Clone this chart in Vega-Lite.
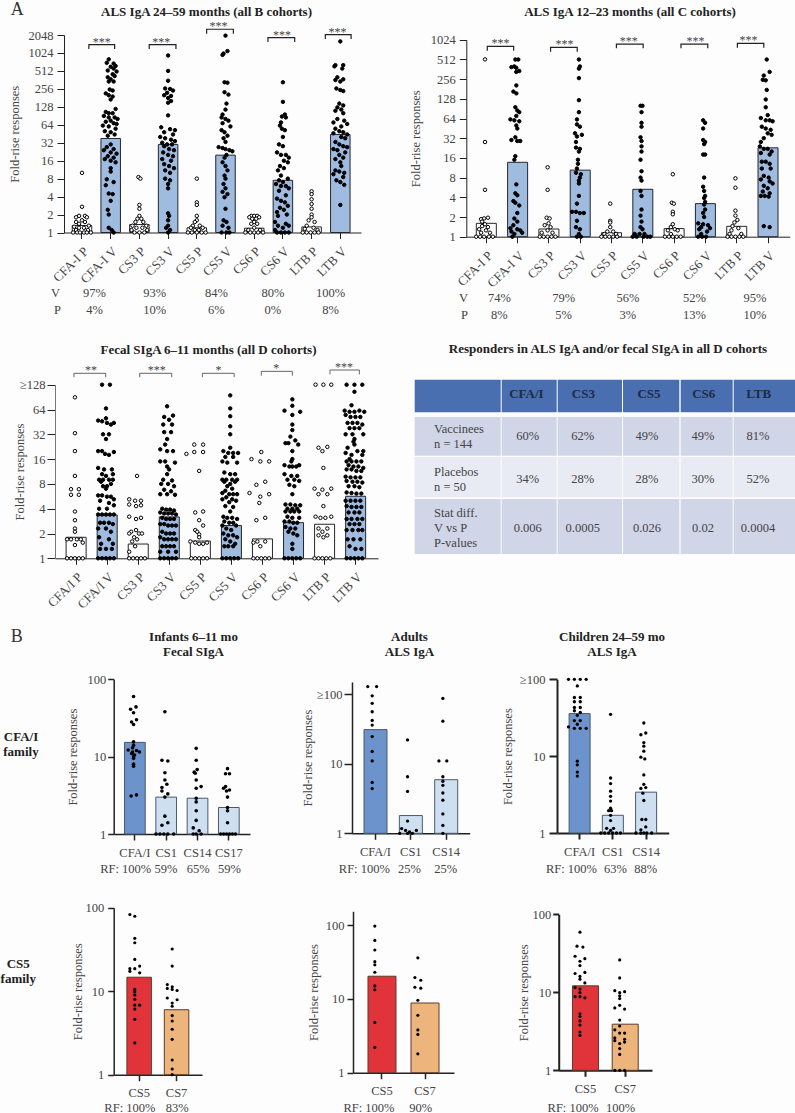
{"$schema":"https://vega.github.io/schema/vega-lite/v6.json","background":"#fdfdfd","padding":0,"spacing":0,"config":{"font":"Liberation Serif","view":{"stroke":null},"axis":{"labelColor":"#444","titleColor":"#444","labelFontSize":12.5,"titleFontSize":12.5,"titleFontWeight":"normal","domainColor":"#222","tickColor":"#222","grid":false},"title":{"fontSize":13,"fontWeight":"bold","color":"#222","anchor":"middle"},"text":{"fontSize":12.5,"baseline":"middle","fill":"#444"}},
"vconcat":[
{"hconcat":[
{"width":397,"height":325,"title":{"text":"ALS IgA 24–59 months (all B cohorts)","dx":6,"offset":-19},
"encoding":{"x":{"field":"x","type":"nominal","scale":{"domain":["CFA-I P","CFA-I V","CS3 P","CS3 V","CS5 P","CS5 V","CS6 P","CS6 V","LTB P","LTB V"],"range":[62,359],"paddingInner":0,"paddingOuter":0.174,"align":0.365},"axis":{"title":null,"labelAngle":-45,"labelAlign":"right","labelBaseline":"top","labelFontSize":13,"tickSize":6,"offset":-92.5,"labelPadding":6}},"y":{"field":"y","type":"quantitative","scale":{"type":"log","base":2,"domain":[1,2048],"range":[232.5,35]},"axis":{"values":[1,2,4,8,16,32,64,128,256,512,1024,2048],"format":"d","title":"Fold-rise responses","offset":-62,"tickSize":7,"labelPadding":4,"titlePadding":7}}},
"layer":[
{"data":{"values":[{"x":"CFA-I P","y":1.31},{"x":"CFA-I V","y":37.7},{"x":"CS3 P","y":1.36},{"x":"CS3 V","y":30},{"x":"CS5 P","y":1.2},{"x":"CS5 V","y":19.8},{"x":"CS6 P","y":1.18},{"x":"CS6 V","y":7.5},{"x":"LTB P","y":1.24},{"x":"LTB V","y":44}]},"mark":{"type":"bar","width":19.5,"stroke":"#23262e","strokeWidth":1},"encoding":{"y2":{"datum":1},"fill":{"condition":{"test":"test(/ P$/,datum.x)","value":"#ffffff"},"value":"#9fbbe0"}}},
{"data":{"values":[
{"x":"CFA-I P","y":10,"d":0},{"x":"CFA-I P","y":2.7,"d":0},{"x":"CFA-I P","y":1.9,"d":-3},{"x":"CFA-I P","y":1.9,"d":3},{"x":"CFA-I P","y":1.8,"d":-6},{"x":"CFA-I P","y":1.8,"d":5},{"x":"CFA-I P","y":1.6,"d":0},{"x":"CFA-I P","y":1.5,"d":-6},{"x":"CFA-I P","y":1.5,"d":3},{"x":"CFA-I P","y":1.4,"d":-3},{"x":"CFA-I P","y":1.3,"d":7},{"x":"CFA-I P","y":1.25,"d":-8},{"x":"CFA-I P","y":1.2,"d":-3},{"x":"CFA-I P","y":1.2,"d":2},{"x":"CFA-I P","y":1.1,"d":-6},{"x":"CFA-I P","y":1.1,"d":6},{"x":"CFA-I P","y":1,"d":-9},{"x":"CFA-I P","y":1,"d":-5},{"x":"CFA-I P","y":1,"d":-2},{"x":"CFA-I P","y":1,"d":2},{"x":"CFA-I P","y":1,"d":5},{"x":"CFA-I P","y":1,"d":9},
{"x":"CFA-I V","y":800,"d":-2},{"x":"CFA-I V","y":700,"d":-4},{"x":"CFA-I V","y":680,"d":3},{"x":"CFA-I V","y":620,"d":5},{"x":"CFA-I V","y":600,"d":0},{"x":"CFA-I V","y":560,"d":3},{"x":"CFA-I V","y":520,"d":-3},{"x":"CFA-I V","y":500,"d":6},{"x":"CFA-I V","y":450,"d":2},{"x":"CFA-I V","y":420,"d":4},{"x":"CFA-I V","y":400,"d":-3},{"x":"CFA-I V","y":370,"d":0},{"x":"CFA-I V","y":340,"d":-2},{"x":"CFA-I V","y":340,"d":3},{"x":"CFA-I V","y":250,"d":-1},{"x":"CFA-I V","y":240,"d":2},{"x":"CFA-I V","y":215,"d":-5},{"x":"CFA-I V","y":200,"d":-2},{"x":"CFA-I V","y":190,"d":2},{"x":"CFA-I V","y":170,"d":0},{"x":"CFA-I V","y":118,"d":5},{"x":"CFA-I V","y":105,"d":-5},{"x":"CFA-I V","y":100,"d":-2},{"x":"CFA-I V","y":100,"d":2},{"x":"CFA-I V","y":90,"d":-7},{"x":"CFA-I V","y":85,"d":-2},{"x":"CFA-I V","y":85,"d":4},{"x":"CFA-I V","y":80,"d":7},{"x":"CFA-I V","y":75,"d":0},{"x":"CFA-I V","y":72,"d":-5},{"x":"CFA-I V","y":68,"d":3},{"x":"CFA-I V","y":66,"d":6},{"x":"CFA-I V","y":62,"d":-8},{"x":"CFA-I V","y":60,"d":-2},{"x":"CFA-I V","y":55,"d":5},{"x":"CFA-I V","y":50,"d":-6},{"x":"CFA-I V","y":48,"d":0},{"x":"CFA-I V","y":44,"d":4},{"x":"CFA-I V","y":42,"d":-3},{"x":"CFA-I V","y":30,"d":0},{"x":"CFA-I V","y":27,"d":-4},{"x":"CFA-I V","y":25,"d":3},{"x":"CFA-I V","y":24,"d":-7},{"x":"CFA-I V","y":22,"d":0},{"x":"CFA-I V","y":21,"d":6},{"x":"CFA-I V","y":19,"d":-3},{"x":"CFA-I V","y":18,"d":3},{"x":"CFA-I V","y":17,"d":-6},{"x":"CFA-I V","y":16,"d":0},{"x":"CFA-I V","y":15,"d":5},{"x":"CFA-I V","y":12,"d":0},{"x":"CFA-I V","y":10.5,"d":0},{"x":"CFA-I V","y":7.8,"d":-4},{"x":"CFA-I V","y":7,"d":3},{"x":"CFA-I V","y":6.2,"d":-5},{"x":"CFA-I V","y":4.5,"d":-2},{"x":"CFA-I V","y":4.4,"d":2},{"x":"CFA-I V","y":3.4,"d":0},{"x":"CFA-I V","y":2.4,"d":-3},{"x":"CFA-I V","y":2,"d":-2},{"x":"CFA-I V","y":1.2,"d":-2},{"x":"CFA-I V","y":1.1,"d":1},{"x":"CFA-I V","y":1,"d":3},
{"x":"CS3 P","y":8.5,"d":-1},{"x":"CS3 P","y":8,"d":1},{"x":"CS3 P","y":2.9,"d":0},{"x":"CS3 P","y":2.5,"d":0},{"x":"CS3 P","y":1.9,"d":0},{"x":"CS3 P","y":1.7,"d":-2},{"x":"CS3 P","y":1.7,"d":2},{"x":"CS3 P","y":1.5,"d":-4},{"x":"CS3 P","y":1.5,"d":4},{"x":"CS3 P","y":1.3,"d":-7},{"x":"CS3 P","y":1.3,"d":7},{"x":"CS3 P","y":1.2,"d":-3},{"x":"CS3 P","y":1.2,"d":3},{"x":"CS3 P","y":1.1,"d":-8},{"x":"CS3 P","y":1.1,"d":8},{"x":"CS3 P","y":1,"d":-5},{"x":"CS3 P","y":1,"d":0},{"x":"CS3 P","y":1,"d":5},
{"x":"CS3 V","y":930,"d":0},{"x":"CS3 V","y":512,"d":0},{"x":"CS3 V","y":350,"d":0},{"x":"CS3 V","y":260,"d":-3},{"x":"CS3 V","y":255,"d":2},{"x":"CS3 V","y":240,"d":5},{"x":"CS3 V","y":220,"d":-1},{"x":"CS3 V","y":200,"d":-4},{"x":"CS3 V","y":195,"d":3},{"x":"CS3 V","y":180,"d":0},{"x":"CS3 V","y":160,"d":3},{"x":"CS3 V","y":150,"d":0},{"x":"CS3 V","y":92,"d":0},{"x":"CS3 V","y":58,"d":-7},{"x":"CS3 V","y":54,"d":2},{"x":"CS3 V","y":52,"d":7},{"x":"CS3 V","y":48,"d":-4},{"x":"CS3 V","y":44,"d":5},{"x":"CS3 V","y":40,"d":-8},{"x":"CS3 V","y":38,"d":-3},{"x":"CS3 V","y":36,"d":3},{"x":"CS3 V","y":34,"d":7},{"x":"CS3 V","y":32,"d":-6},{"x":"CS3 V","y":30,"d":-1},{"x":"CS3 V","y":30,"d":4},{"x":"CS3 V","y":28,"d":-4},{"x":"CS3 V","y":25,"d":1},{"x":"CS3 V","y":24,"d":6},{"x":"CS3 V","y":22,"d":-5},{"x":"CS3 V","y":20,"d":0},{"x":"CS3 V","y":19,"d":5},{"x":"CS3 V","y":17,"d":-6},{"x":"CS3 V","y":16,"d":3},{"x":"CS3 V","y":14,"d":-4},{"x":"CS3 V","y":13,"d":1},{"x":"CS3 V","y":12,"d":6},{"x":"CS3 V","y":11,"d":-3},{"x":"CS3 V","y":10,"d":2},{"x":"CS3 V","y":8,"d":-3},{"x":"CS3 V","y":7.5,"d":2},{"x":"CS3 V","y":6.5,"d":0},{"x":"CS3 V","y":5.5,"d":0},{"x":"CS3 V","y":2.1,"d":0},{"x":"CS3 V","y":1.9,"d":1},{"x":"CS3 V","y":1.6,"d":0},{"x":"CS3 V","y":1.3,"d":0},{"x":"CS3 V","y":1.2,"d":-2},{"x":"CS3 V","y":1.1,"d":2},{"x":"CS3 V","y":1,"d":0},
{"x":"CS5 P","y":8,"d":0},{"x":"CS5 P","y":3.2,"d":0},{"x":"CS5 P","y":2.9,"d":0},{"x":"CS5 P","y":1.9,"d":0},{"x":"CS5 P","y":1.6,"d":0},{"x":"CS5 P","y":1.5,"d":-2},{"x":"CS5 P","y":1.3,"d":-4},{"x":"CS5 P","y":1.3,"d":3},{"x":"CS5 P","y":1.2,"d":-6},{"x":"CS5 P","y":1.2,"d":6},{"x":"CS5 P","y":1.1,"d":-2},{"x":"CS5 P","y":1.1,"d":2},{"x":"CS5 P","y":1,"d":-9},{"x":"CS5 P","y":1,"d":-5},{"x":"CS5 P","y":1,"d":0},{"x":"CS5 P","y":1,"d":5},{"x":"CS5 P","y":1,"d":9},
{"x":"CS5 V","y":2000,"d":0},{"x":"CS5 V","y":1100,"d":2},{"x":"CS5 V","y":1000,"d":-2},{"x":"CS5 V","y":950,"d":-3},{"x":"CS5 V","y":330,"d":-1},{"x":"CS5 V","y":325,"d":2},{"x":"CS5 V","y":225,"d":-1},{"x":"CS5 V","y":205,"d":3},{"x":"CS5 V","y":145,"d":1},{"x":"CS5 V","y":115,"d":0},{"x":"CS5 V","y":95,"d":-3},{"x":"CS5 V","y":85,"d":-4},{"x":"CS5 V","y":80,"d":0},{"x":"CS5 V","y":75,"d":3},{"x":"CS5 V","y":68,"d":-3},{"x":"CS5 V","y":60,"d":5},{"x":"CS5 V","y":52,"d":-4},{"x":"CS5 V","y":48,"d":-1},{"x":"CS5 V","y":42,"d":2},{"x":"CS5 V","y":38,"d":-2},{"x":"CS5 V","y":33,"d":0},{"x":"CS5 V","y":27,"d":-7},{"x":"CS5 V","y":26,"d":-3},{"x":"CS5 V","y":25,"d":0},{"x":"CS5 V","y":24,"d":4},{"x":"CS5 V","y":23,"d":7},{"x":"CS5 V","y":20,"d":1},{"x":"CS5 V","y":18,"d":-1},{"x":"CS5 V","y":15,"d":-3},{"x":"CS5 V","y":13,"d":0},{"x":"CS5 V","y":11,"d":2},{"x":"CS5 V","y":9,"d":-1},{"x":"CS5 V","y":8,"d":0},{"x":"CS5 V","y":6.5,"d":-2},{"x":"CS5 V","y":5.5,"d":0},{"x":"CS5 V","y":4.8,"d":-3},{"x":"CS5 V","y":4.4,"d":2},{"x":"CS5 V","y":3.9,"d":-1},{"x":"CS5 V","y":2.5,"d":0},{"x":"CS5 V","y":1.6,"d":-2},{"x":"CS5 V","y":1.5,"d":1},{"x":"CS5 V","y":1.3,"d":-3},{"x":"CS5 V","y":1.2,"d":3},{"x":"CS5 V","y":1,"d":-4},{"x":"CS5 V","y":1,"d":1},{"x":"CS5 V","y":1,"d":4},
{"x":"CS6 P","y":1.9,"d":-3},{"x":"CS6 P","y":1.9,"d":0},{"x":"CS6 P","y":1.9,"d":3},{"x":"CS6 P","y":1.8,"d":-5},{"x":"CS6 P","y":1.8,"d":5},{"x":"CS6 P","y":1.7,"d":-2},{"x":"CS6 P","y":1.7,"d":2},{"x":"CS6 P","y":1.5,"d":0},{"x":"CS6 P","y":1.4,"d":-3},{"x":"CS6 P","y":1.4,"d":3},{"x":"CS6 P","y":1.2,"d":0},{"x":"CS6 P","y":1.1,"d":-6},{"x":"CS6 P","y":1.1,"d":6},{"x":"CS6 P","y":1,"d":-9},{"x":"CS6 P","y":1,"d":-4},{"x":"CS6 P","y":1,"d":0},{"x":"CS6 P","y":1,"d":4},{"x":"CS6 P","y":1,"d":9},
{"x":"CS6 V","y":330,"d":0},{"x":"CS6 V","y":155,"d":0},{"x":"CS6 V","y":95,"d":2},{"x":"CS6 V","y":88,"d":-1},{"x":"CS6 V","y":85,"d":3},{"x":"CS6 V","y":70,"d":-2},{"x":"CS6 V","y":62,"d":-3},{"x":"CS6 V","y":55,"d":-1},{"x":"CS6 V","y":52,"d":2},{"x":"CS6 V","y":40,"d":0},{"x":"CS6 V","y":30,"d":-4},{"x":"CS6 V","y":28,"d":0},{"x":"CS6 V","y":22,"d":-6},{"x":"CS6 V","y":20,"d":-2},{"x":"CS6 V","y":20,"d":3},{"x":"CS6 V","y":18,"d":6},{"x":"CS6 V","y":16,"d":1},{"x":"CS6 V","y":15,"d":5},{"x":"CS6 V","y":13,"d":-3},{"x":"CS6 V","y":12,"d":1},{"x":"CS6 V","y":11,"d":-5},{"x":"CS6 V","y":9,"d":-2},{"x":"CS6 V","y":8,"d":5},{"x":"CS6 V","y":7.5,"d":-4},{"x":"CS6 V","y":7,"d":0},{"x":"CS6 V","y":6.5,"d":-7},{"x":"CS6 V","y":6,"d":-2},{"x":"CS6 V","y":6,"d":3},{"x":"CS6 V","y":5.5,"d":6},{"x":"CS6 V","y":5,"d":-4},{"x":"CS6 V","y":4.2,"d":3},{"x":"CS6 V","y":3.7,"d":-6},{"x":"CS6 V","y":3.4,"d":-2},{"x":"CS6 V","y":3.2,"d":2},{"x":"CS6 V","y":2.8,"d":5},{"x":"CS6 V","y":2.6,"d":-3},{"x":"CS6 V","y":2.4,"d":1},{"x":"CS6 V","y":2.2,"d":-6},{"x":"CS6 V","y":2,"d":4},{"x":"CS6 V","y":1.9,"d":-5},{"x":"CS6 V","y":1.5,"d":-8},{"x":"CS6 V","y":1.4,"d":3},{"x":"CS6 V","y":1.3,"d":-5},{"x":"CS6 V","y":1.3,"d":6},{"x":"CS6 V","y":1.2,"d":0},{"x":"CS6 V","y":1.1,"d":-8},{"x":"CS6 V","y":1,"d":-6},{"x":"CS6 V","y":1,"d":-2},{"x":"CS6 V","y":1,"d":2},{"x":"CS6 V","y":1,"d":6},
{"x":"LTB P","y":4.9,"d":0},{"x":"LTB P","y":4.4,"d":0},{"x":"LTB P","y":3.6,"d":0},{"x":"LTB P","y":3,"d":0},{"x":"LTB P","y":2.5,"d":0},{"x":"LTB P","y":2,"d":0},{"x":"LTB P","y":1.8,"d":0},{"x":"LTB P","y":1.6,"d":-3},{"x":"LTB P","y":1.5,"d":3},{"x":"LTB P","y":1.3,"d":-5},{"x":"LTB P","y":1.2,"d":2},{"x":"LTB P","y":1.15,"d":-7},{"x":"LTB P","y":1.1,"d":6},{"x":"LTB P","y":1,"d":-9},{"x":"LTB P","y":1,"d":-5},{"x":"LTB P","y":1,"d":-1},{"x":"LTB P","y":1,"d":3},{"x":"LTB P","y":1,"d":7},
{"x":"LTB V","y":1600,"d":0},{"x":"LTB V","y":640,"d":-5},{"x":"LTB V","y":640,"d":3},{"x":"LTB V","y":610,"d":-6},{"x":"LTB V","y":560,"d":2},{"x":"LTB V","y":400,"d":-3},{"x":"LTB V","y":370,"d":3},{"x":"LTB V","y":360,"d":-5},{"x":"LTB V","y":340,"d":0},{"x":"LTB V","y":260,"d":-4},{"x":"LTB V","y":245,"d":0},{"x":"LTB V","y":235,"d":3},{"x":"LTB V","y":145,"d":-1},{"x":"LTB V","y":135,"d":3},{"x":"LTB V","y":125,"d":-3},{"x":"LTB V","y":115,"d":1},{"x":"LTB V","y":110,"d":-5},{"x":"LTB V","y":100,"d":3},{"x":"LTB V","y":80,"d":-3},{"x":"LTB V","y":75,"d":4},{"x":"LTB V","y":70,"d":-7},{"x":"LTB V","y":66,"d":7},{"x":"LTB V","y":60,"d":1},{"x":"LTB V","y":55,"d":-5},{"x":"LTB V","y":50,"d":-1},{"x":"LTB V","y":48,"d":3},{"x":"LTB V","y":46,"d":-7},{"x":"LTB V","y":44,"d":7},{"x":"LTB V","y":40,"d":1},{"x":"LTB V","y":38,"d":5},{"x":"LTB V","y":33,"d":-5},{"x":"LTB V","y":30,"d":-1},{"x":"LTB V","y":28,"d":3},{"x":"LTB V","y":27,"d":7},{"x":"LTB V","y":25,"d":-7},{"x":"LTB V","y":24,"d":-3},{"x":"LTB V","y":22,"d":5},{"x":"LTB V","y":20,"d":-1},{"x":"LTB V","y":18,"d":3},{"x":"LTB V","y":17,"d":-5},{"x":"LTB V","y":15,"d":0},{"x":"LTB V","y":13,"d":1},{"x":"LTB V","y":11,"d":-5},{"x":"LTB V","y":10.5,"d":-1},{"x":"LTB V","y":10,"d":4},{"x":"LTB V","y":9.5,"d":-7},{"x":"LTB V","y":8.5,"d":3},{"x":"LTB V","y":7.5,"d":-4},{"x":"LTB V","y":7,"d":0},{"x":"LTB V","y":6.3,"d":4},{"x":"LTB V","y":2.9,"d":0}
]},"mark":{"type":"circle","size":12,"stroke":"#000","strokeWidth":1,"opacity":1},"encoding":{"xOffset":{"field":"d","type":"quantitative","scale":{"domain":[-9.76,9.76],"range":[0,28.7],"nice":false,"zero":false}},"fill":{"condition":{"test":"test(/ P$/,datum.x)","value":"#ffffff"},"value":"#000000"}}},
{"data":{"values":[{"b":"a","o":1,"x":"CFA-I P","y":1195,"d":7},{"b":"a","o":2,"x":"CFA-I P","y":1410,"d":7},{"b":"a","o":3,"x":"CFA-I V","y":1410,"d":4},{"b":"a","o":4,"x":"CFA-I V","y":1195,"d":4},{"b":"b","o":1,"x":"CS3 P","y":1195,"d":10},{"b":"b","o":2,"x":"CS3 P","y":1410,"d":10},{"b":"b","o":3,"x":"CS3 V","y":1410,"d":8},{"b":"b","o":4,"x":"CS3 V","y":1195,"d":8},{"b":"c","o":1,"x":"CS5 P","y":2150,"d":10},{"b":"c","o":2,"x":"CS5 P","y":2556,"d":10},{"b":"c","o":3,"x":"CS5 V","y":2556,"d":8},{"b":"c","o":4,"x":"CS5 V","y":2150,"d":8},{"b":"d","o":1,"x":"CS6 P","y":1560,"d":14},{"b":"d","o":2,"x":"CS6 P","y":1850,"d":14},{"b":"d","o":3,"x":"CS6 V","y":1850,"d":12},{"b":"d","o":4,"x":"CS6 V","y":1560,"d":12},{"b":"e","o":1,"x":"LTB P","y":1760,"d":14},{"b":"e","o":2,"x":"LTB P","y":2075,"d":14},{"b":"e","o":3,"x":"LTB V","y":2075,"d":11},{"b":"e","o":4,"x":"LTB V","y":1760,"d":11}]},"mark":{"type":"line","stroke":"#222","strokeWidth":1.2},"encoding":{"detail":{"field":"b"},"order":{"field":"o"},"xOffset":{"field":"d","type":"quantitative","scale":{"domain":[-9.76,9.76],"range":[0,28.7],"nice":false,"zero":false}}}},
{"data":{"values":[{"x":"CFA-I P","y":1410,"d":20,"t":"***"},{"x":"CS3 P","y":1410,"d":22.3,"t":"***"},{"x":"CS5 P","y":2556,"d":22,"t":"***"},{"x":"CS6 P","y":1850,"d":28.3,"t":"***"},{"x":"LTB P","y":2075,"d":26.3,"t":"***"}]},"mark":{"type":"text","fontSize":12,"dy":-3},"encoding":{"text":{"field":"t"},"xOffset":{"field":"d","type":"quantitative","scale":{"domain":[-9.76,9.76],"range":[0,28.7],"nice":false,"zero":false}}}},
{"data":{"values":[{"x":"CFA-I P","y":1,"d":-27,"t":"V"},{"x":"CFA-I P","y":1,"d":12.7,"t":"97%"},{"x":"CS3 P","y":1,"d":15.6,"t":"93%"},{"x":"CS5 P","y":1,"d":20,"t":"84%"},{"x":"CS6 P","y":1,"d":19,"t":"80%"},{"x":"LTB P","y":1,"d":19.3,"t":"100%"}]},"mark":{"type":"text","dy":60},"encoding":{"text":{"field":"t"},"xOffset":{"field":"d","type":"quantitative","scale":{"domain":[-9.76,9.76],"range":[0,28.7],"nice":false,"zero":false}}}},
{"data":{"values":[{"x":"CFA-I P","y":1,"d":-25,"t":"P"},{"x":"CFA-I P","y":1,"d":12.7,"t":"4%"},{"x":"CS3 P","y":1,"d":15.6,"t":"10%"},{"x":"CS5 P","y":1,"d":20,"t":"6%"},{"x":"CS6 P","y":1,"d":19,"t":"0%"},{"x":"LTB P","y":1,"d":19.3,"t":"8%"}]},"mark":{"type":"text","dy":77.5},"encoding":{"text":{"field":"t"},"xOffset":{"field":"d","type":"quantitative","scale":{"domain":[-9.76,9.76],"range":[0,28.7],"nice":false,"zero":false}}}},
{"data":{"values":[{"x":"CFA-I P","y":2048,"d":-66,"t":"A"}]},"mark":{"type":"text","fontSize":18,"dy":-25,"fill":"#333"},"encoding":{"text":{"field":"t"},"xOffset":{"field":"d","type":"quantitative","scale":{"domain":[-9.76,9.76],"range":[0,28.7],"nice":false,"zero":false}}}}
]},
{"width":398,"height":325,"title":{"text":"ALS IgA 12–23 months (all C cohorts)","dx":32,"offset":-19},
"encoding":{"x":{"field":"x","type":"nominal","scale":{"domain":["CFA-I P","CFA-I V","CS3 P","CS3 V","CS5 P","CS5 V","CS6 P","CS6 V","LTB P","LTB V"],"range":[67.3,390.7],"paddingInner":0,"paddingOuter":0.166,"align":0.42},"axis":{"title":null,"labelAngle":-45,"labelAlign":"right","labelBaseline":"top","labelFontSize":13,"tickSize":6,"offset":-88.3,"labelPadding":6}},"y":{"field":"y","type":"quantitative","scale":{"type":"log","base":2,"domain":[1,1024],"range":[236.7,39.7]},"axis":{"values":[1,2,4,8,16,32,64,128,256,512,1024],"format":"d","title":"Fold-rise responses","offset":-67.3,"tickSize":7,"labelPadding":4,"titlePadding":8}}},
"layer":[
{"data":{"values":[{"x":"CFA-I P","y":1.6},{"x":"CFA-I V","y":13.7},{"x":"CS3 P","y":1.31},{"x":"CS3 V","y":10.4},{"x":"CS5 P","y":1.15},{"x":"CS5 V","y":5.3},{"x":"CS6 P","y":1.33},{"x":"CS6 V","y":3.2},{"x":"LTB P","y":1.44},{"x":"LTB V","y":22.8}]},"mark":{"type":"bar","width":20,"stroke":"#23262e","strokeWidth":1},"encoding":{"y2":{"datum":1},"fill":{"condition":{"test":"test(/ P$/,datum.x)","value":"#ffffff"},"value":"#9fbbe0"}}},
{"data":{"values":[
{"x":"CFA-I P","y":512,"d":0},{"x":"CFA-I P","y":28,"d":0},{"x":"CFA-I P","y":5.2,"d":0},{"x":"CFA-I P","y":1.95,"d":3},{"x":"CFA-I P","y":1.9,"d":-1},{"x":"CFA-I P","y":1.85,"d":-4},{"x":"CFA-I P","y":1.7,"d":-3},{"x":"CFA-I P","y":1.55,"d":0},{"x":"CFA-I P","y":1.45,"d":-3},{"x":"CFA-I P","y":1.4,"d":3},{"x":"CFA-I P","y":1.3,"d":-6},{"x":"CFA-I P","y":1.25,"d":1},{"x":"CFA-I P","y":1.15,"d":-4},{"x":"CFA-I P","y":1.15,"d":5},{"x":"CFA-I P","y":1,"d":-9},{"x":"CFA-I P","y":1,"d":-5},{"x":"CFA-I P","y":1,"d":-1},{"x":"CFA-I P","y":1,"d":4},{"x":"CFA-I P","y":1,"d":8},
{"x":"CFA-I V","y":510,"d":-1},{"x":"CFA-I V","y":510,"d":2},{"x":"CFA-I V","y":400,"d":-2},{"x":"CFA-I V","y":390,"d":-5},{"x":"CFA-I V","y":380,"d":0},{"x":"CFA-I V","y":340,"d":3},{"x":"CFA-I V","y":330,"d":0},{"x":"CFA-I V","y":205,"d":0},{"x":"CFA-I V","y":165,"d":-3},{"x":"CFA-I V","y":155,"d":0},{"x":"CFA-I V","y":95,"d":-1},{"x":"CFA-I V","y":85,"d":1},{"x":"CFA-I V","y":80,"d":3},{"x":"CFA-I V","y":70,"d":0},{"x":"CFA-I V","y":62,"d":-6},{"x":"CFA-I V","y":60,"d":-2},{"x":"CFA-I V","y":58,"d":3},{"x":"CFA-I V","y":50,"d":0},{"x":"CFA-I V","y":45,"d":1},{"x":"CFA-I V","y":33,"d":-1},{"x":"CFA-I V","y":30,"d":-5},{"x":"CFA-I V","y":29,"d":1},{"x":"CFA-I V","y":29,"d":4},{"x":"CFA-I V","y":17,"d":-1},{"x":"CFA-I V","y":15,"d":-2},{"x":"CFA-I V","y":6.3,"d":0},{"x":"CFA-I V","y":4.6,"d":-1},{"x":"CFA-I V","y":4.3,"d":1},{"x":"CFA-I V","y":3.5,"d":-3},{"x":"CFA-I V","y":3.3,"d":-1},{"x":"CFA-I V","y":3,"d":3},{"x":"CFA-I V","y":2.3,"d":1},{"x":"CFA-I V","y":1.9,"d":-2},{"x":"CFA-I V","y":1.7,"d":1},{"x":"CFA-I V","y":1.5,"d":-3},{"x":"CFA-I V","y":1.35,"d":-6},{"x":"CFA-I V","y":1.3,"d":1},{"x":"CFA-I V","y":1.25,"d":4},{"x":"CFA-I V","y":1.2,"d":-5},{"x":"CFA-I V","y":1.15,"d":6},{"x":"CFA-I V","y":1.1,"d":-2},{"x":"CFA-I V","y":1,"d":-4},
{"x":"CS3 P","y":11.5,"d":0},{"x":"CS3 P","y":5.2,"d":0},{"x":"CS3 P","y":1.95,"d":-1},{"x":"CS3 P","y":1.9,"d":2},{"x":"CS3 P","y":1.6,"d":1},{"x":"CS3 P","y":1.5,"d":-3},{"x":"CS3 P","y":1.4,"d":3},{"x":"CS3 P","y":1.25,"d":0},{"x":"CS3 P","y":1.15,"d":-6},{"x":"CS3 P","y":1.15,"d":5},{"x":"CS3 P","y":1,"d":-8},{"x":"CS3 P","y":1,"d":-4},{"x":"CS3 P","y":1,"d":0},{"x":"CS3 P","y":1,"d":4},{"x":"CS3 P","y":1,"d":8},
{"x":"CS3 V","y":510,"d":0},{"x":"CS3 V","y":400,"d":1},{"x":"CS3 V","y":370,"d":0},{"x":"CS3 V","y":265,"d":0},{"x":"CS3 V","y":122,"d":0},{"x":"CS3 V","y":80,"d":0},{"x":"CS3 V","y":62,"d":-2},{"x":"CS3 V","y":52,"d":-2},{"x":"CS3 V","y":48,"d":1},{"x":"CS3 V","y":38,"d":-4},{"x":"CS3 V","y":36,"d":3},{"x":"CS3 V","y":34,"d":-2},{"x":"CS3 V","y":28,"d":-3},{"x":"CS3 V","y":23,"d":-3},{"x":"CS3 V","y":22,"d":1},{"x":"CS3 V","y":20,"d":0},{"x":"CS3 V","y":15,"d":-1},{"x":"CS3 V","y":13,"d":-1},{"x":"CS3 V","y":11,"d":-2},{"x":"CS3 V","y":9.5,"d":-3},{"x":"CS3 V","y":9,"d":2},{"x":"CS3 V","y":8,"d":1},{"x":"CS3 V","y":7.2,"d":0},{"x":"CS3 V","y":6.5,"d":0},{"x":"CS3 V","y":4.2,"d":0},{"x":"CS3 V","y":3.2,"d":-2},{"x":"CS3 V","y":2.4,"d":-7},{"x":"CS3 V","y":2.4,"d":-3},{"x":"CS3 V","y":2.3,"d":1},{"x":"CS3 V","y":2.3,"d":5},{"x":"CS3 V","y":1.75,"d":-2},{"x":"CS3 V","y":1.4,"d":-3},{"x":"CS3 V","y":1.3,"d":1},{"x":"CS3 V","y":1.1,"d":0},{"x":"CS3 V","y":1,"d":-2},{"x":"CS3 V","y":1,"d":2},
{"x":"CS5 P","y":3.2,"d":0},{"x":"CS5 P","y":1.75,"d":0},{"x":"CS5 P","y":1.65,"d":0},{"x":"CS5 P","y":1.4,"d":0},{"x":"CS5 P","y":1.2,"d":-3},{"x":"CS5 P","y":1.2,"d":3},{"x":"CS5 P","y":1.1,"d":-6},{"x":"CS5 P","y":1.1,"d":6},{"x":"CS5 P","y":1,"d":-9},{"x":"CS5 P","y":1,"d":-5},{"x":"CS5 P","y":1,"d":-1},{"x":"CS5 P","y":1,"d":3},{"x":"CS5 P","y":1,"d":7},
{"x":"CS5 V","y":100,"d":-1},{"x":"CS5 V","y":100,"d":1},{"x":"CS5 V","y":80,"d":0},{"x":"CS5 V","y":55,"d":0},{"x":"CS5 V","y":48,"d":0},{"x":"CS5 V","y":33,"d":-1},{"x":"CS5 V","y":29,"d":0},{"x":"CS5 V","y":24,"d":0},{"x":"CS5 V","y":20,"d":0},{"x":"CS5 V","y":15,"d":-1},{"x":"CS5 V","y":10,"d":0},{"x":"CS5 V","y":8,"d":-1},{"x":"CS5 V","y":7.2,"d":0},{"x":"CS5 V","y":5,"d":-1},{"x":"CS5 V","y":4.2,"d":0},{"x":"CS5 V","y":2.6,"d":0},{"x":"CS5 V","y":2.1,"d":-1},{"x":"CS5 V","y":1.7,"d":0},{"x":"CS5 V","y":1.4,"d":-1},{"x":"CS5 V","y":1.3,"d":1},{"x":"CS5 V","y":1.1,"d":-7},{"x":"CS5 V","y":1.1,"d":-2},{"x":"CS5 V","y":1.1,"d":3},{"x":"CS5 V","y":1,"d":-9},{"x":"CS5 V","y":1,"d":-5},{"x":"CS5 V","y":1,"d":2},{"x":"CS5 V","y":1,"d":6},{"x":"CS5 V","y":1,"d":9},
{"x":"CS6 P","y":9,"d":0},{"x":"CS6 P","y":3.3,"d":-1},{"x":"CS6 P","y":3.2,"d":1},{"x":"CS6 P","y":2.4,"d":0},{"x":"CS6 P","y":2.2,"d":0},{"x":"CS6 P","y":1.55,"d":0},{"x":"CS6 P","y":1.4,"d":-2},{"x":"CS6 P","y":1.3,"d":2},{"x":"CS6 P","y":1.25,"d":-5},{"x":"CS6 P","y":1.25,"d":5},{"x":"CS6 P","y":1.1,"d":-2},{"x":"CS6 P","y":1,"d":-8},{"x":"CS6 P","y":1,"d":-4},{"x":"CS6 P","y":1,"d":0},{"x":"CS6 P","y":1,"d":4},{"x":"CS6 P","y":1,"d":8},
{"x":"CS6 V","y":60,"d":-1},{"x":"CS6 V","y":55,"d":1},{"x":"CS6 V","y":45,"d":-1},{"x":"CS6 V","y":30,"d":-1},{"x":"CS6 V","y":28,"d":1},{"x":"CS6 V","y":26,"d":0},{"x":"CS6 V","y":18,"d":-1},{"x":"CS6 V","y":18,"d":1},{"x":"CS6 V","y":8,"d":0},{"x":"CS6 V","y":5.8,"d":-1},{"x":"CS6 V","y":5,"d":0},{"x":"CS6 V","y":4.2,"d":1},{"x":"CS6 V","y":3.9,"d":0},{"x":"CS6 V","y":3.4,"d":1},{"x":"CS6 V","y":3.1,"d":0},{"x":"CS6 V","y":2.6,"d":1},{"x":"CS6 V","y":2.3,"d":-1},{"x":"CS6 V","y":2,"d":0},{"x":"CS6 V","y":1.6,"d":-6},{"x":"CS6 V","y":1.55,"d":-1},{"x":"CS6 V","y":1.5,"d":4},{"x":"CS6 V","y":1.4,"d":-3},{"x":"CS6 V","y":1.35,"d":6},{"x":"CS6 V","y":1.3,"d":-5},{"x":"CS6 V","y":1.2,"d":3},{"x":"CS6 V","y":1.1,"d":-3},{"x":"CS6 V","y":1,"d":-6},{"x":"CS6 V","y":1,"d":-2},{"x":"CS6 V","y":1,"d":2},
{"x":"LTB P","y":7.8,"d":0},{"x":"LTB P","y":5.6,"d":0},{"x":"LTB P","y":2.5,"d":0},{"x":"LTB P","y":2.1,"d":0},{"x":"LTB P","y":1.8,"d":2},{"x":"LTB P","y":1.65,"d":-1},{"x":"LTB P","y":1.45,"d":-3},{"x":"LTB P","y":1.35,"d":3},{"x":"LTB P","y":1.25,"d":-4},{"x":"LTB P","y":1.1,"d":-6},{"x":"LTB P","y":1.1,"d":6},{"x":"LTB P","y":1,"d":-8},{"x":"LTB P","y":1,"d":-4},{"x":"LTB P","y":1,"d":0},{"x":"LTB P","y":1,"d":4},{"x":"LTB P","y":1,"d":8},
{"x":"LTB V","y":510,"d":0},{"x":"LTB V","y":330,"d":3},{"x":"LTB V","y":290,"d":-3},{"x":"LTB V","y":250,"d":-4},{"x":"LTB V","y":245,"d":-1},{"x":"LTB V","y":175,"d":0},{"x":"LTB V","y":125,"d":-1},{"x":"LTB V","y":95,"d":-1},{"x":"LTB V","y":72,"d":1},{"x":"LTB V","y":65,"d":-6},{"x":"LTB V","y":60,"d":-1},{"x":"LTB V","y":60,"d":3},{"x":"LTB V","y":58,"d":6},{"x":"LTB V","y":48,"d":-5},{"x":"LTB V","y":45,"d":-1},{"x":"LTB V","y":43,"d":4},{"x":"LTB V","y":38,"d":1},{"x":"LTB V","y":36,"d":5},{"x":"LTB V","y":32,"d":-3},{"x":"LTB V","y":28,"d":-6},{"x":"LTB V","y":24,"d":-7},{"x":"LTB V","y":22,"d":-3},{"x":"LTB V","y":22,"d":1},{"x":"LTB V","y":20,"d":5},{"x":"LTB V","y":19,"d":-6},{"x":"LTB V","y":18,"d":3},{"x":"LTB V","y":14,"d":-5},{"x":"LTB V","y":14,"d":-1},{"x":"LTB V","y":13,"d":3},{"x":"LTB V","y":11,"d":-5},{"x":"LTB V","y":11,"d":4},{"x":"LTB V","y":8.5,"d":-3},{"x":"LTB V","y":8,"d":2},{"x":"LTB V","y":7.5,"d":-6},{"x":"LTB V","y":7,"d":3},{"x":"LTB V","y":6.5,"d":6},{"x":"LTB V","y":6,"d":-3},{"x":"LTB V","y":5.5,"d":1},{"x":"LTB V","y":4.9,"d":-4},{"x":"LTB V","y":4.6,"d":3},{"x":"LTB V","y":4.2,"d":-6},{"x":"LTB V","y":4.2,"d":-2},{"x":"LTB V","y":4.1,"d":2},{"x":"LTB V","y":1.45,"d":-3},{"x":"LTB V","y":1.4,"d":3}
]},"mark":{"type":"circle","size":12,"stroke":"#000","strokeWidth":1,"opacity":1},"encoding":{"xOffset":{"field":"d","type":"quantitative","scale":{"domain":[-10.64,10.64],"range":[0,31.3],"nice":false,"zero":false}},"fill":{"condition":{"test":"test(/ P$/,datum.x)","value":"#ffffff"},"value":"#000000"}}},
{"data":{"values":[{"b":"a","o":1,"x":"CFA-I P","y":694,"d":2.3},{"b":"a","o":2,"x":"CFA-I P","y":809,"d":2.3},{"b":"a","o":3,"x":"CFA-I V","y":809,"d":-2.7},{"b":"a","o":4,"x":"CFA-I V","y":694,"d":-2.7},{"b":"b","o":1,"x":"CS3 P","y":671,"d":3},{"b":"b","o":2,"x":"CS3 P","y":781,"d":3},{"b":"b","o":3,"x":"CS3 V","y":781,"d":-1.7},{"b":"b","o":4,"x":"CS3 V","y":671,"d":-1.7},{"b":"c","o":1,"x":"CS5 P","y":755,"d":6.3},{"b":"c","o":2,"x":"CS5 P","y":879,"d":6.3},{"b":"c","o":3,"x":"CS5 V","y":879,"d":1.7},{"b":"c","o":4,"x":"CS5 V","y":755,"d":1.7},{"b":"d","o":1,"x":"CS6 P","y":755,"d":8.3},{"b":"d","o":2,"x":"CS6 P","y":879,"d":8.3},{"b":"d","o":3,"x":"CS6 V","y":879,"d":3.7},{"b":"d","o":4,"x":"CS6 V","y":755,"d":3.7},{"b":"e","o":1,"x":"LTB P","y":771,"d":2},{"b":"e","o":2,"x":"LTB P","y":900,"d":2},{"b":"e","o":3,"x":"LTB V","y":900,"d":-3},{"b":"e","o":4,"x":"LTB V","y":771,"d":-3}]},"mark":{"type":"line","stroke":"#222","strokeWidth":1.2},"encoding":{"detail":{"field":"b"},"order":{"field":"o"},"xOffset":{"field":"d","type":"quantitative","scale":{"domain":[-10.64,10.64],"range":[0,31.3],"nice":false,"zero":false}}}},
{"data":{"values":[{"x":"CFA-I P","y":809,"d":15.7,"t":"***"},{"x":"CS3 P","y":781,"d":17.3,"t":"***"},{"x":"CS5 P","y":879,"d":19,"t":"***"},{"x":"CS6 P","y":879,"d":23,"t":"***"},{"x":"LTB P","y":900,"d":13.3,"t":"***"}]},"mark":{"type":"text","fontSize":12,"dy":-3},"encoding":{"text":{"field":"t"},"xOffset":{"field":"d","type":"quantitative","scale":{"domain":[-10.64,10.64],"range":[0,31.3],"nice":false,"zero":false}}}},
{"data":{"values":[{"x":"CFA-I P","y":1,"d":-22,"t":"V"},{"x":"CFA-I P","y":1,"d":14.7,"t":"74%"},{"x":"CS3 P","y":1,"d":16.3,"t":"79%"},{"x":"CS5 P","y":1,"d":18,"t":"56%"},{"x":"CS6 P","y":1,"d":22,"t":"52%"},{"x":"LTB P","y":1,"d":20,"t":"95%"}]},"mark":{"type":"text","dy":61},"encoding":{"text":{"field":"t"},"xOffset":{"field":"d","type":"quantitative","scale":{"domain":[-10.64,10.64],"range":[0,31.3],"nice":false,"zero":false}}}},
{"data":{"values":[{"x":"CFA-I P","y":1,"d":-21,"t":"P"},{"x":"CFA-I P","y":1,"d":14.7,"t":"8%"},{"x":"CS3 P","y":1,"d":16.3,"t":"5%"},{"x":"CS5 P","y":1,"d":18,"t":"3%"},{"x":"CS6 P","y":1,"d":22,"t":"13%"},{"x":"LTB P","y":1,"d":20,"t":"10%"}]},"mark":{"type":"text","dy":78.3},"encoding":{"text":{"field":"t"},"xOffset":{"field":"d","type":"quantitative","scale":{"domain":[-10.64,10.64],"range":[0,31.3],"nice":false,"zero":false}}}}
]}
],"spacing":0,"bounds":"flush"},
{"hconcat":[
{"width":397,"height":285,"title":{"text":"Fecal SIgA 6–11 months (all D cohorts)","dx":8,"offset":-32},
"encoding":{"x":{"field":"x","type":"nominal","scale":{"domain":["CFA/I P","CFA/I V","CS3 P","CS3 V","CS5 P","CS5 V","CS6 P","CS6 V","LTB P","LTB V"],"range":[53,376],"paddingInner":0,"paddingOuter":0.2,"align":0.45},"axis":{"title":null,"labelAngle":-45,"labelAlign":"right","labelBaseline":"top","labelFontSize":13,"tickSize":6,"offset":-51.7,"labelPadding":6}},"y":{"field":"y","type":"quantitative","scale":{"type":"log","base":2,"domain":[1,128],"range":[233.3,59.7]},"axis":{"values":[1,2,4,8,16,32,64,128],"labelExpr":"datum.value==128?'≥128':datum.value","title":"Fold-rise responses","offset":-53,"tickSize":8,"labelPadding":2,"titlePadding":-7,"domainColor":"#777"}}},
"layer":[
{"data":{"values":[{"x":"CFA/I P","y":1.8},{"x":"CFA/I V","y":3.36},{"x":"CS3 P","y":1.49},{"x":"CS3 V","y":3.18},{"x":"CS5 P","y":1.62},{"x":"CS5 V","y":2.5},{"x":"CS6 P","y":1.72},{"x":"CS6 V","y":2.71},{"x":"LTB P","y":2.59},{"x":"LTB V","y":5.66}]},"mark":{"type":"bar","width":20,"stroke":"#23262e","strokeWidth":1},"encoding":{"y2":{"datum":1},"fill":{"condition":{"test":"test(/ P$/,datum.x)","value":"#ffffff"},"value":"#9fbbe0"}}},
{"data":{"values":[
{"x":"CFA/I P","y":90,"d":0},{"x":"CFA/I P","y":33,"d":0},{"x":"CFA/I P","y":20,"d":0},{"x":"CFA/I P","y":10,"d":0},{"x":"CFA/I P","y":6.9,"d":-4},{"x":"CFA/I P","y":6.9,"d":4},{"x":"CFA/I P","y":5.9,"d":-4},{"x":"CFA/I P","y":5.9,"d":4},{"x":"CFA/I P","y":3.7,"d":0},{"x":"CFA/I P","y":2.9,"d":0},{"x":"CFA/I P","y":2.3,"d":0},{"x":"CFA/I P","y":2.1,"d":0},{"x":"CFA/I P","y":1.7,"d":-8},{"x":"CFA/I P","y":1.7,"d":-4},{"x":"CFA/I P","y":1.7,"d":2},{"x":"CFA/I P","y":1.7,"d":6},{"x":"CFA/I P","y":1.55,"d":8},{"x":"CFA/I P","y":1.45,"d":0},{"x":"CFA/I P","y":1,"d":-8},{"x":"CFA/I P","y":1,"d":-4},{"x":"CFA/I P","y":1,"d":0},{"x":"CFA/I P","y":1,"d":4},{"x":"CFA/I P","y":1,"d":8},
{"x":"CFA/I V","y":128,"d":-4},{"x":"CFA/I V","y":128,"d":4},{"x":"CFA/I V","y":66,"d":0},{"x":"CFA/I V","y":50,"d":0},{"x":"CFA/I V","y":47,"d":-8},{"x":"CFA/I V","y":46,"d":-4},{"x":"CFA/I V","y":44,"d":1},{"x":"CFA/I V","y":44,"d":8},{"x":"CFA/I V","y":42,"d":5},{"x":"CFA/I V","y":32,"d":-3},{"x":"CFA/I V","y":32,"d":3},{"x":"CFA/I V","y":28,"d":0},{"x":"CFA/I V","y":20,"d":-8},{"x":"CFA/I V","y":20,"d":-4},{"x":"CFA/I V","y":19.5,"d":8},{"x":"CFA/I V","y":18.5,"d":-1},{"x":"CFA/I V","y":18,"d":3},{"x":"CFA/I V","y":12.5,"d":-8},{"x":"CFA/I V","y":12,"d":-2},{"x":"CFA/I V","y":12,"d":6},{"x":"CFA/I V","y":10.5,"d":-4},{"x":"CFA/I V","y":10.5,"d":7},{"x":"CFA/I V","y":10,"d":0},{"x":"CFA/I V","y":9,"d":-7},{"x":"CFA/I V","y":9,"d":-3},{"x":"CFA/I V","y":9,"d":3},{"x":"CFA/I V","y":9,"d":7},{"x":"CFA/I V","y":8.5,"d":-5},{"x":"CFA/I V","y":8,"d":5},{"x":"CFA/I V","y":7.5,"d":-3},{"x":"CFA/I V","y":7.5,"d":1},{"x":"CFA/I V","y":7,"d":0},{"x":"CFA/I V","y":5.8,"d":-8},{"x":"CFA/I V","y":5.8,"d":-4},{"x":"CFA/I V","y":5.6,"d":1},{"x":"CFA/I V","y":5.6,"d":5},{"x":"CFA/I V","y":5.2,"d":8},{"x":"CFA/I V","y":5,"d":-6},{"x":"CFA/I V","y":4.7,"d":3},{"x":"CFA/I V","y":4.4,"d":8},{"x":"CFA/I V","y":4,"d":-7},{"x":"CFA/I V","y":4,"d":1},{"x":"CFA/I V","y":3.4,"d":-8},{"x":"CFA/I V","y":3.4,"d":-4},{"x":"CFA/I V","y":3.4,"d":0},{"x":"CFA/I V","y":3.4,"d":4},{"x":"CFA/I V","y":3.4,"d":8},{"x":"CFA/I V","y":2.7,"d":-6},{"x":"CFA/I V","y":2.7,"d":-2},{"x":"CFA/I V","y":2.7,"d":3},{"x":"CFA/I V","y":2.6,"d":7},{"x":"CFA/I V","y":2.3,"d":-8},{"x":"CFA/I V","y":2.3,"d":0},{"x":"CFA/I V","y":2.1,"d":5},{"x":"CFA/I V","y":1.8,"d":-7},{"x":"CFA/I V","y":1.7,"d":3},{"x":"CFA/I V","y":1.5,"d":-5},{"x":"CFA/I V","y":1.5,"d":7},{"x":"CFA/I V","y":1.3,"d":-6},{"x":"CFA/I V","y":1.3,"d":0},{"x":"CFA/I V","y":1.3,"d":6},{"x":"CFA/I V","y":1,"d":-8},{"x":"CFA/I V","y":1,"d":-4},{"x":"CFA/I V","y":1,"d":0},{"x":"CFA/I V","y":1,"d":4},{"x":"CFA/I V","y":1,"d":8},
{"x":"CS3 P","y":10,"d":0},{"x":"CS3 P","y":5.2,"d":-8},{"x":"CS3 P","y":5,"d":-2},{"x":"CS3 P","y":5,"d":4},{"x":"CS3 P","y":4.5,"d":-8},{"x":"CS3 P","y":4.3,"d":-1},{"x":"CS3 P","y":4.4,"d":4},{"x":"CS3 P","y":3.2,"d":-8},{"x":"CS3 P","y":3,"d":-1},{"x":"CS3 P","y":3.1,"d":4},{"x":"CS3 P","y":2.2,"d":-1},{"x":"CS3 P","y":2.1,"d":-6},{"x":"CS3 P","y":2,"d":-8},{"x":"CS3 P","y":2,"d":2},{"x":"CS3 P","y":2,"d":5},{"x":"CS3 P","y":1.8,"d":-3},{"x":"CS3 P","y":1.7,"d":0},{"x":"CS3 P","y":1.6,"d":-5},{"x":"CS3 P","y":1.4,"d":-2},{"x":"CS3 P","y":1.2,"d":-8},{"x":"CS3 P","y":1,"d":-8},{"x":"CS3 P","y":1,"d":-4},{"x":"CS3 P","y":1,"d":0},{"x":"CS3 P","y":1,"d":4},{"x":"CS3 P","y":1,"d":8},
{"x":"CS3 V","y":70,"d":-1},{"x":"CS3 V","y":54,"d":5},{"x":"CS3 V","y":52,"d":-4},{"x":"CS3 V","y":48,"d":1},{"x":"CS3 V","y":42,"d":-5},{"x":"CS3 V","y":42,"d":4},{"x":"CS3 V","y":34,"d":-4},{"x":"CS3 V","y":34,"d":3},{"x":"CS3 V","y":28,"d":-1},{"x":"CS3 V","y":24,"d":-3},{"x":"CS3 V","y":21,"d":-8},{"x":"CS3 V","y":20,"d":-1},{"x":"CS3 V","y":20,"d":5},{"x":"CS3 V","y":15,"d":-8},{"x":"CS3 V","y":15,"d":-3},{"x":"CS3 V","y":14.5,"d":7},{"x":"CS3 V","y":13,"d":-1},{"x":"CS3 V","y":12,"d":1},{"x":"CS3 V","y":10.5,"d":-1},{"x":"CS3 V","y":9,"d":-5},{"x":"CS3 V","y":8.8,"d":4},{"x":"CS3 V","y":8,"d":-7},{"x":"CS3 V","y":8,"d":0},{"x":"CS3 V","y":7.5,"d":6},{"x":"CS3 V","y":6.8,"d":-4},{"x":"CS3 V","y":6.5,"d":3},{"x":"CS3 V","y":6,"d":-8},{"x":"CS3 V","y":6,"d":-1},{"x":"CS3 V","y":5.9,"d":7},{"x":"CS3 V","y":4,"d":-6},{"x":"CS3 V","y":3.9,"d":-2},{"x":"CS3 V","y":3.9,"d":2},{"x":"CS3 V","y":3.8,"d":6},{"x":"CS3 V","y":3.6,"d":-8},{"x":"CS3 V","y":3.5,"d":-4},{"x":"CS3 V","y":3.5,"d":0},{"x":"CS3 V","y":3.5,"d":4},{"x":"CS3 V","y":3.4,"d":8},{"x":"CS3 V","y":3.1,"d":-6},{"x":"CS3 V","y":3,"d":-2},{"x":"CS3 V","y":3,"d":2},{"x":"CS3 V","y":3,"d":6},{"x":"CS3 V","y":2.6,"d":-8},{"x":"CS3 V","y":2.6,"d":-4},{"x":"CS3 V","y":2.5,"d":0},{"x":"CS3 V","y":2.5,"d":4},{"x":"CS3 V","y":2.5,"d":8},{"x":"CS3 V","y":2.1,"d":-6},{"x":"CS3 V","y":2,"d":-2},{"x":"CS3 V","y":2,"d":2},{"x":"CS3 V","y":2,"d":6},{"x":"CS3 V","y":1.8,"d":-8},{"x":"CS3 V","y":1.7,"d":-4},{"x":"CS3 V","y":1.7,"d":0},{"x":"CS3 V","y":1.7,"d":4},{"x":"CS3 V","y":1.7,"d":8},{"x":"CS3 V","y":1.4,"d":-6},{"x":"CS3 V","y":1.4,"d":-2},{"x":"CS3 V","y":1.4,"d":2},{"x":"CS3 V","y":1.4,"d":6},{"x":"CS3 V","y":1.2,"d":-8},{"x":"CS3 V","y":1.2,"d":0},{"x":"CS3 V","y":1.2,"d":8},{"x":"CS3 V","y":1,"d":-8},{"x":"CS3 V","y":1,"d":-4},{"x":"CS3 V","y":1,"d":0},{"x":"CS3 V","y":1,"d":4},{"x":"CS3 V","y":1,"d":8},
{"x":"CS5 P","y":24,"d":-5},{"x":"CS5 P","y":24,"d":4},{"x":"CS5 P","y":18.5,"d":-13},{"x":"CS5 P","y":19.5,"d":-5},{"x":"CS5 P","y":19.5,"d":4},{"x":"CS5 P","y":11.5,"d":0},{"x":"CS5 P","y":3.6,"d":-4},{"x":"CS5 P","y":3.7,"d":4},{"x":"CS5 P","y":2.9,"d":0},{"x":"CS5 P","y":2.5,"d":4},{"x":"CS5 P","y":2.2,"d":-4},{"x":"CS5 P","y":2.1,"d":-2},{"x":"CS5 P","y":1.95,"d":0},{"x":"CS5 P","y":1.8,"d":0},{"x":"CS5 P","y":1.6,"d":-9},{"x":"CS5 P","y":1.55,"d":-4},{"x":"CS5 P","y":1.5,"d":0},{"x":"CS5 P","y":1.5,"d":4},{"x":"CS5 P","y":1.55,"d":8},{"x":"CS5 P","y":1,"d":-8},{"x":"CS5 P","y":1,"d":-4},{"x":"CS5 P","y":1,"d":0},{"x":"CS5 P","y":1,"d":4},{"x":"CS5 P","y":1,"d":8},
{"x":"CS5 V","y":95,"d":0},{"x":"CS5 V","y":66,"d":0},{"x":"CS5 V","y":53,"d":0},{"x":"CS5 V","y":40,"d":0},{"x":"CS5 V","y":32,"d":0},{"x":"CS5 V","y":22,"d":0},{"x":"CS5 V","y":20,"d":-7},{"x":"CS5 V","y":19,"d":-2},{"x":"CS5 V","y":19,"d":3},{"x":"CS5 V","y":19,"d":8},{"x":"CS5 V","y":17,"d":-5},{"x":"CS5 V","y":17,"d":3},{"x":"CS5 V","y":15,"d":-8},{"x":"CS5 V","y":14.5,"d":-3},{"x":"CS5 V","y":14.5,"d":7},{"x":"CS5 V","y":11,"d":-6},{"x":"CS5 V","y":10.5,"d":0},{"x":"CS5 V","y":10.5,"d":5},{"x":"CS5 V","y":9,"d":-8},{"x":"CS5 V","y":9,"d":-4},{"x":"CS5 V","y":9,"d":2},{"x":"CS5 V","y":9,"d":7},{"x":"CS5 V","y":8.5,"d":-6},{"x":"CS5 V","y":8,"d":0},{"x":"CS5 V","y":8.5,"d":5},{"x":"CS5 V","y":7.5,"d":-3},{"x":"CS5 V","y":7,"d":2},{"x":"CS5 V","y":6.6,"d":-5},{"x":"CS5 V","y":6.2,"d":-8},{"x":"CS5 V","y":6,"d":-1},{"x":"CS5 V","y":6,"d":3},{"x":"CS5 V","y":6,"d":7},{"x":"CS5 V","y":5.5,"d":-4},{"x":"CS5 V","y":5.2,"d":-8},{"x":"CS5 V","y":5.2,"d":2},{"x":"CS5 V","y":5,"d":6},{"x":"CS5 V","y":4.8,"d":-1},{"x":"CS5 V","y":4.3,"d":-5},{"x":"CS5 V","y":4.2,"d":3},{"x":"CS5 V","y":3.7,"d":0},{"x":"CS5 V","y":3.2,"d":-7},{"x":"CS5 V","y":3.1,"d":-3},{"x":"CS5 V","y":3.1,"d":2},{"x":"CS5 V","y":3,"d":7},{"x":"CS5 V","y":2.8,"d":-6},{"x":"CS5 V","y":2.7,"d":-1},{"x":"CS5 V","y":2.7,"d":3},{"x":"CS5 V","y":2.5,"d":-8},{"x":"CS5 V","y":2.5,"d":6},{"x":"CS5 V","y":2.3,"d":-4},{"x":"CS5 V","y":2.2,"d":1},{"x":"CS5 V","y":2,"d":-7},{"x":"CS5 V","y":1.9,"d":-2},{"x":"CS5 V","y":1.9,"d":3},{"x":"CS5 V","y":1.8,"d":7},{"x":"CS5 V","y":1.7,"d":-5},{"x":"CS5 V","y":1.6,"d":0},{"x":"CS5 V","y":1.5,"d":5},{"x":"CS5 V","y":1.4,"d":-6},{"x":"CS5 V","y":1.4,"d":-2},{"x":"CS5 V","y":1.4,"d":3},{"x":"CS5 V","y":1,"d":-8},{"x":"CS5 V","y":1,"d":-4},{"x":"CS5 V","y":1,"d":0},{"x":"CS5 V","y":1,"d":4},{"x":"CS5 V","y":1,"d":8},
{"x":"CS6 P","y":19.5,"d":0},{"x":"CS6 P","y":16,"d":-10},{"x":"CS6 P","y":15,"d":-1},{"x":"CS6 P","y":15,"d":8},{"x":"CS6 P","y":8.5,"d":4},{"x":"CS6 P","y":7.8,"d":-5},{"x":"CS6 P","y":6.2,"d":-12},{"x":"CS6 P","y":5.6,"d":-1},{"x":"CS6 P","y":6,"d":8},{"x":"CS6 P","y":4.7,"d":-2},{"x":"CS6 P","y":3.1,"d":4},{"x":"CS6 P","y":2.9,"d":-5},{"x":"CS6 P","y":1.6,"d":-4},{"x":"CS6 P","y":1.6,"d":4},{"x":"CS6 P","y":1.55,"d":-8},{"x":"CS6 P","y":1.4,"d":-1},{"x":"CS6 P","y":1,"d":-8},{"x":"CS6 P","y":1,"d":-4},{"x":"CS6 P","y":1,"d":0},{"x":"CS6 P","y":1,"d":4},{"x":"CS6 P","y":1,"d":8},
{"x":"CS6 V","y":85,"d":0},{"x":"CS6 V","y":71,"d":0},{"x":"CS6 V","y":62,"d":-8},{"x":"CS6 V","y":60,"d":8},{"x":"CS6 V","y":55,"d":0},{"x":"CS6 V","y":42,"d":0},{"x":"CS6 V","y":36,"d":0},{"x":"CS6 V","y":30,"d":-2},{"x":"CS6 V","y":27,"d":3},{"x":"CS6 V","y":25,"d":-7},{"x":"CS6 V","y":25,"d":-4},{"x":"CS6 V","y":24,"d":6},{"x":"CS6 V","y":20,"d":0},{"x":"CS6 V","y":16,"d":0},{"x":"CS6 V","y":15,"d":-1},{"x":"CS6 V","y":13.5,"d":-8},{"x":"CS6 V","y":13,"d":-3},{"x":"CS6 V","y":13,"d":0},{"x":"CS6 V","y":13,"d":4},{"x":"CS6 V","y":13.5,"d":7},{"x":"CS6 V","y":10.5,"d":-8},{"x":"CS6 V","y":10,"d":-1},{"x":"CS6 V","y":10,"d":5},{"x":"CS6 V","y":9,"d":-5},{"x":"CS6 V","y":9,"d":2},{"x":"CS6 V","y":8.7,"d":7},{"x":"CS6 V","y":7.8,"d":-3},{"x":"CS6 V","y":7.5,"d":2},{"x":"CS6 V","y":6,"d":0},{"x":"CS6 V","y":4.5,"d":-7},{"x":"CS6 V","y":4.5,"d":-2},{"x":"CS6 V","y":4.4,"d":3},{"x":"CS6 V","y":4.4,"d":8},{"x":"CS6 V","y":4,"d":-5},{"x":"CS6 V","y":4,"d":0},{"x":"CS6 V","y":4,"d":5},{"x":"CS6 V","y":3.7,"d":-7},{"x":"CS6 V","y":3.7,"d":-2},{"x":"CS6 V","y":3.7,"d":2},{"x":"CS6 V","y":3.7,"d":7},{"x":"CS6 V","y":3.2,"d":-5},{"x":"CS6 V","y":3.1,"d":0},{"x":"CS6 V","y":3.1,"d":7},{"x":"CS6 V","y":2.8,"d":-8},{"x":"CS6 V","y":2.8,"d":-3},{"x":"CS6 V","y":2.7,"d":1},{"x":"CS6 V","y":2.7,"d":5},{"x":"CS6 V","y":2.4,"d":-7},{"x":"CS6 V","y":2.3,"d":-2},{"x":"CS6 V","y":2.3,"d":3},{"x":"CS6 V","y":2.1,"d":-4},{"x":"CS6 V","y":2,"d":1},{"x":"CS6 V","y":1.9,"d":5},{"x":"CS6 V","y":1.5,"d":0},{"x":"CS6 V","y":1.3,"d":0},{"x":"CS6 V","y":1,"d":-8},{"x":"CS6 V","y":1,"d":-4},{"x":"CS6 V","y":1,"d":0},{"x":"CS6 V","y":1,"d":4},{"x":"CS6 V","y":1,"d":8},
{"x":"LTB P","y":128,"d":-8},{"x":"LTB P","y":128,"d":0},{"x":"LTB P","y":128,"d":8},{"x":"LTB P","y":22,"d":-5},{"x":"LTB P","y":22.5,"d":4},{"x":"LTB P","y":20,"d":-1},{"x":"LTB P","y":12.5,"d":0},{"x":"LTB P","y":7,"d":-9},{"x":"LTB P","y":6.8,"d":-1},{"x":"LTB P","y":7,"d":8},{"x":"LTB P","y":6,"d":-5},{"x":"LTB P","y":6,"d":4},{"x":"LTB P","y":4.3,"d":0},{"x":"LTB P","y":3.2,"d":-8},{"x":"LTB P","y":3.1,"d":-3},{"x":"LTB P","y":3.1,"d":2},{"x":"LTB P","y":3.2,"d":8},{"x":"LTB P","y":2.3,"d":-5},{"x":"LTB P","y":2.3,"d":4},{"x":"LTB P","y":2.1,"d":-1},{"x":"LTB P","y":1.9,"d":-5},{"x":"LTB P","y":1.9,"d":4},{"x":"LTB P","y":1.8,"d":0},{"x":"LTB P","y":1,"d":-9},{"x":"LTB P","y":1,"d":-5},{"x":"LTB P","y":1,"d":-1},{"x":"LTB P","y":1,"d":3},{"x":"LTB P","y":1,"d":7},
{"x":"LTB V","y":128,"d":-8},{"x":"LTB V","y":128,"d":0},{"x":"LTB V","y":128,"d":8},{"x":"LTB V","y":105,"d":0},{"x":"LTB V","y":72,"d":-3},{"x":"LTB V","y":62,"d":-10},{"x":"LTB V","y":60,"d":-5},{"x":"LTB V","y":60,"d":0},{"x":"LTB V","y":62,"d":5},{"x":"LTB V","y":60,"d":10},{"x":"LTB V","y":55,"d":-9},{"x":"LTB V","y":52,"d":-4},{"x":"LTB V","y":52,"d":1},{"x":"LTB V","y":52,"d":6},{"x":"LTB V","y":44,"d":-7},{"x":"LTB V","y":44,"d":-2},{"x":"LTB V","y":44,"d":3},{"x":"LTB V","y":42,"d":8},{"x":"LTB V","y":38,"d":-5},{"x":"LTB V","y":38,"d":0},{"x":"LTB V","y":38,"d":5},{"x":"LTB V","y":32,"d":-9},{"x":"LTB V","y":32,"d":-2},{"x":"LTB V","y":32,"d":9},{"x":"LTB V","y":28,"d":0},{"x":"LTB V","y":26,"d":-1},{"x":"LTB V","y":24,"d":0},{"x":"LTB V","y":22,"d":-7},{"x":"LTB V","y":20,"d":3},{"x":"LTB V","y":20,"d":9},{"x":"LTB V","y":19,"d":-9},{"x":"LTB V","y":18,"d":-3},{"x":"LTB V","y":18,"d":8},{"x":"LTB V","y":16,"d":-5},{"x":"LTB V","y":15,"d":-8},{"x":"LTB V","y":15,"d":-3},{"x":"LTB V","y":15,"d":2},{"x":"LTB V","y":15,"d":7},{"x":"LTB V","y":13.5,"d":-6},{"x":"LTB V","y":13,"d":-1},{"x":"LTB V","y":13,"d":4},{"x":"LTB V","y":12.5,"d":9},{"x":"LTB V","y":12,"d":-8},{"x":"LTB V","y":12,"d":-3},{"x":"LTB V","y":11.5,"d":2},{"x":"LTB V","y":11.5,"d":7},{"x":"LTB V","y":9.8,"d":-9},{"x":"LTB V","y":9.6,"d":-4},{"x":"LTB V","y":9.6,"d":1},{"x":"LTB V","y":9.6,"d":6},{"x":"LTB V","y":8.7,"d":-8},{"x":"LTB V","y":8.5,"d":-2},{"x":"LTB V","y":8.5,"d":3},{"x":"LTB V","y":8.3,"d":8},{"x":"LTB V","y":7.5,"d":-6},{"x":"LTB V","y":7.5,"d":0},{"x":"LTB V","y":7.3,"d":5},{"x":"LTB V","y":6.3,"d":-8},{"x":"LTB V","y":6.2,"d":-3},{"x":"LTB V","y":6.1,"d":2},{"x":"LTB V","y":6.1,"d":7},{"x":"LTB V","y":5,"d":-9},{"x":"LTB V","y":5,"d":-4},{"x":"LTB V","y":5,"d":1},{"x":"LTB V","y":5,"d":6},{"x":"LTB V","y":4.3,"d":-8},{"x":"LTB V","y":4.2,"d":-3},{"x":"LTB V","y":4.2,"d":2},{"x":"LTB V","y":4.2,"d":7},{"x":"LTB V","y":3.6,"d":-6},{"x":"LTB V","y":3.6,"d":0},{"x":"LTB V","y":3.6,"d":5},{"x":"LTB V","y":3,"d":-8},{"x":"LTB V","y":3,"d":-3},{"x":"LTB V","y":3,"d":3},{"x":"LTB V","y":3,"d":8},{"x":"LTB V","y":2.6,"d":-5},{"x":"LTB V","y":2.6,"d":0},{"x":"LTB V","y":2.6,"d":5},{"x":"LTB V","y":2.2,"d":-8},{"x":"LTB V","y":2.2,"d":-2},{"x":"LTB V","y":2.2,"d":4},{"x":"LTB V","y":2.2,"d":8},{"x":"LTB V","y":1.7,"d":-7},{"x":"LTB V","y":1.7,"d":-1},{"x":"LTB V","y":1.7,"d":6},{"x":"LTB V","y":1.4,"d":-5},{"x":"LTB V","y":1.3,"d":1},{"x":"LTB V","y":1.3,"d":7},{"x":"LTB V","y":1,"d":-8},{"x":"LTB V","y":1,"d":-4},{"x":"LTB V","y":1,"d":0},{"x":"LTB V","y":1,"d":4},{"x":"LTB V","y":1,"d":8}
]},"mark":{"type":"circle","size":12,"stroke":"#000","strokeWidth":1,"opacity":1},"encoding":{"xOffset":{"field":"d","type":"quantitative","scale":{"domain":[-10.54,10.54],"range":[0,31],"nice":false,"zero":false}},"fill":{"condition":{"test":"test(/ P$/,datum.x)","value":"#ffffff"},"value":"#000000"}}},
{"data":{"values":[{"b":"a","o":1,"x":"CFA/I P","y":158,"d":-1},{"b":"a","o":2,"x":"CFA/I P","y":176,"d":-1},{"b":"a","o":3,"x":"CFA/I V","y":176,"d":-0.3},{"b":"a","o":4,"x":"CFA/I V","y":158,"d":-0.3},{"b":"b","o":1,"x":"CS3 P","y":158,"d":2.7},{"b":"b","o":2,"x":"CS3 P","y":176,"d":2.7},{"b":"b","o":3,"x":"CS3 V","y":176,"d":3.7},{"b":"b","o":4,"x":"CS3 V","y":158,"d":3.7},{"b":"c","o":1,"x":"CS5 P","y":158,"d":3.3},{"b":"c","o":2,"x":"CS5 P","y":176,"d":3.3},{"b":"c","o":3,"x":"CS5 V","y":176,"d":4},{"b":"c","o":4,"x":"CS5 V","y":158,"d":4},{"b":"d","o":1,"x":"CS6 P","y":165,"d":0},{"b":"d","o":2,"x":"CS6 P","y":186,"d":0},{"b":"d","o":3,"x":"CS6 V","y":186,"d":0},{"b":"d","o":4,"x":"CS6 V","y":165,"d":0},{"b":"e","o":1,"x":"LTB P","y":171,"d":6.7},{"b":"e","o":2,"x":"LTB P","y":193,"d":6.7},{"b":"e","o":3,"x":"LTB V","y":193,"d":5},{"b":"e","o":4,"x":"LTB V","y":171,"d":5}]},"mark":{"type":"line","stroke":"#666","strokeWidth":1},"encoding":{"detail":{"field":"b"},"order":{"field":"o"},"xOffset":{"field":"d","type":"quantitative","scale":{"domain":[-10.54,10.54],"range":[0,31],"nice":false,"zero":false}}}},
{"data":{"values":[{"x":"CFA/I P","y":176,"d":16.3,"t":"**"},{"x":"CS3 P","y":176,"d":20,"t":"***"},{"x":"CS5 P","y":176,"d":19.7,"t":"*"},{"x":"CS6 P","y":186,"d":15.3,"t":"*"},{"x":"LTB P","y":193,"d":21,"t":"***"}]},"mark":{"type":"text","fontSize":12,"dy":-3},"encoding":{"text":{"field":"t"},"xOffset":{"field":"d","type":"quantitative","scale":{"domain":[-10.54,10.54],"range":[0,31],"nice":false,"zero":false}}}}
]},
{"width":398,"height":285,"title":{"text":"Responders in ALS IgA and/or fecal SIgA in all D cohorts","dx":10,"offset":-31},
"encoding":{"x":{"field":"x","type":"quantitative","scale":{"domain":[0,380.6],"range":[15.7,396.3]},"axis":null},"y":{"field":"y","type":"quantitative","scale":{"domain":[0,174.3],"range":[54.7,229]},"axis":null}},
"layer":[
{"data":{"values":[{"c":"Group","r":"Header","x":0,"x2":86,"y":0,"y2":32.6},{"c":"CFA/I","r":"Header","x":87,"x2":142,"y":0,"y2":32.6},{"c":"CS3","r":"Header","x":143,"x2":207.3,"y":0,"y2":32.6},{"c":"CS5","r":"Header","x":208.3,"x2":264.6,"y":0,"y2":32.6},{"c":"CS6","r":"Header","x":266,"x2":318,"y":0,"y2":32.6},{"c":"LTB","r":"Header","x":319,"x2":380.6,"y":0,"y2":32.6},
{"c":"Group","r":"Vaccinees","x":0,"x2":86,"y":37.3,"y2":76},{"c":"CFA/I","r":"Vaccinees","x":87,"x2":142,"y":37.3,"y2":76},{"c":"CS3","r":"Vaccinees","x":143,"x2":207.3,"y":37.3,"y2":76},{"c":"CS5","r":"Vaccinees","x":208.3,"x2":264.6,"y":37.3,"y2":76},{"c":"CS6","r":"Vaccinees","x":266,"x2":318,"y":37.3,"y2":76},{"c":"LTB","r":"Vaccinees","x":319,"x2":380.6,"y":37.3,"y2":76},
{"c":"Group","r":"Placebos","x":0,"x2":86,"y":77.3,"y2":117.6},{"c":"CFA/I","r":"Placebos","x":87,"x2":142,"y":77.3,"y2":117.6},{"c":"CS3","r":"Placebos","x":143,"x2":207.3,"y":77.3,"y2":117.6},{"c":"CS5","r":"Placebos","x":208.3,"x2":264.6,"y":77.3,"y2":117.6},{"c":"CS6","r":"Placebos","x":266,"x2":318,"y":77.3,"y2":117.6},{"c":"LTB","r":"Placebos","x":319,"x2":380.6,"y":77.3,"y2":117.6},
{"c":"Group","r":"Stat","x":0,"x2":86,"y":119.3,"y2":174.3},{"c":"CFA/I","r":"Stat","x":87,"x2":142,"y":119.3,"y2":174.3},{"c":"CS3","r":"Stat","x":143,"x2":207.3,"y":119.3,"y2":174.3},{"c":"CS5","r":"Stat","x":208.3,"x2":264.6,"y":119.3,"y2":174.3},{"c":"CS6","r":"Stat","x":266,"x2":318,"y":119.3,"y2":174.3},{"c":"LTB","r":"Stat","x":319,"x2":380.6,"y":119.3,"y2":174.3}]},"mark":{"type":"rect"},"encoding":{"x2":{"field":"x2"},"y2":{"field":"y2"},"fill":{"field":"r","type":"nominal","legend":null,"scale":{"domain":["Header","Vaccinees","Placebos","Stat"],"range":["#4a6fb0","#d0d5e8","#e9ebf4","#d0d5e8"]}}}},
{"data":{"values":[{"x":111.7,"y":14.3,"t":"CFA/I"},{"x":168.7,"y":14.3,"t":"CS3"},{"x":234.3,"y":14.3,"t":"CS5"},{"x":289,"y":14.3,"t":"CS6"},{"x":344,"y":14.3,"t":"LTB"}]},"mark":{"type":"text","fontWeight":"bold","fontSize":13,"fill":"#1f2a44"},"encoding":{"text":{"field":"t"}}},
{"data":{"values":[{"x":113,"y":56.3,"t":"60%"},{"x":168,"y":56.3,"t":"62%"},{"x":232.3,"y":56.3,"t":"49%"},{"x":288.3,"y":56.3,"t":"49%"},{"x":343.3,"y":56.3,"t":"81%"},{"x":113,"y":99.6,"t":"34%"},{"x":168,"y":99.6,"t":"28%"},{"x":232.3,"y":99.6,"t":"28%"},{"x":288.3,"y":99.6,"t":"30%"},{"x":343.3,"y":99.6,"t":"52%"},{"x":113,"y":148.6,"t":"0.006"},{"x":168,"y":148.6,"t":"0.0005"},{"x":232.3,"y":148.6,"t":"0.026"},{"x":288.3,"y":148.6,"t":"0.02"},{"x":343.3,"y":148.6,"t":"0.0004"}]},"mark":{"type":"text"},"encoding":{"text":{"field":"t"}}},
{"data":{"values":[{"x":19.3,"y":49,"t":"Vaccinees\nn = 144"},{"x":19.3,"y":92,"t":"Placebos\nn = 50"},{"x":19.3,"y":133.6,"t":"Stat diff.\nV vs P\nP-values"}]},"mark":{"type":"text","align":"left","lineBreak":"\n","lineHeight":15},"encoding":{"text":{"field":"t"}}}
]}
],"spacing":0,"bounds":"flush"},
{"hconcat":[
{"width":265,"height":265,"title":{"text":["Infants 6–11 mo","Fecal SIgA"],"dx":59,"offset":-46.7},
"encoding":{"x":{"field":"x","type":"nominal","scale":{"domain":["CFA/I","CS1","CS14","CS17"],"range":[111.7,248],"paddingInner":0,"paddingOuter":0.176},"axis":{"title":null,"labelAngle":0,"tickSize":6,"labelPadding":6,"offset":-43,"domainWidth":1.5,"tickWidth":1.5}},"y":{"field":"y","type":"quantitative","scale":{"type":"log","domain":[1,100],"range":[222,67.3]},"axis":{"values":[1,10,100],"format":"d","title":"Fold-rise responses","offset":-111.7,"tickSize":6,"titlePadding":7,"domainWidth":1.5,"tickWidth":1.5}}},
"layer":[
{"data":{"values":[{"x":"CFA/I","y":15.3},{"x":"CS1","y":3},{"x":"CS14","y":2.9},{"x":"CS17","y":2.2}]},"mark":{"type":"bar","width":20.7,"stroke":"#4a5a6e","strokeWidth":1},"encoding":{"y2":{"datum":1},"fill":{"condition":{"test":"datum.x=='CFA/I'","value":"#6c93cb"},"value":"#cfdff2"}}},
{"data":{"values":[{"x":"CFA/I","y":60,"d":0},{"x":"CFA/I","y":44,"d":2.5},{"x":"CFA/I","y":41,"d":-3},{"x":"CFA/I","y":37,"d":0},{"x":"CFA/I","y":30,"d":3},{"x":"CFA/I","y":28,"d":-2},{"x":"CFA/I","y":26,"d":0},{"x":"CFA/I","y":15.5,"d":0},{"x":"CFA/I","y":14,"d":0},{"x":"CFA/I","y":13,"d":-1},{"x":"CFA/I","y":12.2,"d":-5.5},{"x":"CFA/I","y":12,"d":3},{"x":"CFA/I","y":11.5,"d":-1},{"x":"CFA/I","y":11.5,"d":6},{"x":"CFA/I","y":11,"d":-2},{"x":"CFA/I","y":10.5,"d":1},{"x":"CFA/I","y":10,"d":0},{"x":"CFA/I","y":9.5,"d":0},{"x":"CFA/I","y":8,"d":0},{"x":"CFA/I","y":7.5,"d":0},{"x":"CFA/I","y":3.1,"d":-2.5},{"x":"CFA/I","y":3.2,"d":3},
{"x":"CS1","y":38,"d":0},{"x":"CS1","y":9,"d":-3},{"x":"CS1","y":8.8,"d":3},{"x":"CS1","y":6.2,"d":0},{"x":"CS1","y":5,"d":0},{"x":"CS1","y":4,"d":-3},{"x":"CS1","y":4.4,"d":2},{"x":"CS1","y":3.6,"d":-3},{"x":"CS1","y":3.3,"d":3},{"x":"CS1","y":3,"d":0},{"x":"CS1","y":1.7,"d":0},{"x":"CS1","y":1.4,"d":3},{"x":"CS1","y":1.3,"d":-3},{"x":"CS1","y":1,"d":-9},{"x":"CS1","y":1,"d":-5},{"x":"CS1","y":1,"d":-1},{"x":"CS1","y":1,"d":3},{"x":"CS1","y":1,"d":9},
{"x":"CS14","y":12.8,"d":0},{"x":"CS14","y":9,"d":0},{"x":"CS14","y":6.8,"d":1},{"x":"CS14","y":6.3,"d":-2},{"x":"CS14","y":6.1,"d":-1},{"x":"CS14","y":5,"d":0},{"x":"CS14","y":4.1,"d":5},{"x":"CS14","y":3.9,"d":0},{"x":"CS14","y":2.9,"d":0},{"x":"CS14","y":2.6,"d":0},{"x":"CS14","y":2,"d":0},{"x":"CS14","y":1.5,"d":0},{"x":"CS14","y":1.2,"d":-3},{"x":"CS14","y":1.1,"d":3},{"x":"CS14","y":1,"d":-3},{"x":"CS14","y":1,"d":0},{"x":"CS14","y":1,"d":5},
{"x":"CS17","y":7,"d":0},{"x":"CS17","y":6,"d":-2},{"x":"CS17","y":6,"d":2},{"x":"CS17","y":4.1,"d":-2},{"x":"CS17","y":3.9,"d":-4},{"x":"CS17","y":3.7,"d":2},{"x":"CS17","y":3.6,"d":-1},{"x":"CS17","y":3,"d":0},{"x":"CS17","y":2.2,"d":0},{"x":"CS17","y":2,"d":0},{"x":"CS17","y":1.4,"d":0},{"x":"CS17","y":1,"d":-7},{"x":"CS17","y":1,"d":-4},{"x":"CS17","y":1,"d":-1},{"x":"CS17","y":1,"d":2},{"x":"CS17","y":1,"d":5},{"x":"CS17","y":1,"d":8}]},"mark":{"type":"circle","size":13,"fill":"#000","opacity":1},"encoding":{"xOffset":{"field":"d","type":"quantitative","scale":{"domain":[-10.64,10.64],"range":[0,31.3],"nice":false,"zero":false}}}},
{"data":{"values":[{"x":"CFA/I","y":1,"d":-8,"t":"RF: 100%"},{"x":"CS1","y":1,"d":1,"t":"59%"},{"x":"CS14","y":1,"d":2,"t":"65%"},{"x":"CS17","y":1,"d":2,"t":"59%"}]},"mark":{"type":"text","dy":35},"encoding":{"text":{"field":"t"},"xOffset":{"field":"d","type":"quantitative","scale":{"domain":[-10.64,10.64],"range":[0,31.3],"nice":false,"zero":false}}}},
{"data":{"values":[{"x":"CFA/I","y":100,"d":-119,"t":"B"}]},"mark":{"type":"text","fontSize":18,"dy":-42,"fill":"#333"},"encoding":{"text":{"field":"t"},"xOffset":{"field":"d","type":"quantitative","scale":{"domain":[-10.64,10.64],"range":[0,31.3],"nice":false,"zero":false}}}},
{"data":{"values":[{"x":"CFA/I","y":18,"d":-114.7,"t":"CFA/I\nfamily"}]},"mark":{"type":"text","fontWeight":"bold","lineBreak":"\n","lineHeight":15,"fontSize":13,"fill":"#222"},"encoding":{"text":{"field":"t"},"xOffset":{"field":"d","type":"quantitative","scale":{"domain":[-10.64,10.64],"range":[0,31.3],"nice":false,"zero":false}}}}
]},
{"width":235,"height":265,"title":{"text":["Adults","ALS IgA"],"dx":25,"offset":-46.7},
"encoding":{"x":{"field":"x","type":"nominal","scale":{"domain":["CFA/I","CS1","CS14"],"range":[85,202.7],"paddingInner":0,"paddingOuter":0.165},"axis":{"title":null,"labelAngle":0,"tickSize":6,"labelPadding":6,"offset":-43.7,"domainWidth":1.5,"tickWidth":1.5}},"y":{"field":"y","type":"quantitative","scale":{"type":"log","domain":[1,150],"range":[221.3,70]},"axis":{"values":[1,10,100],"labelExpr":"datum.value==100?'≥100':datum.value","title":"Fold-rise responses","offset":-85,"tickSize":8,"titlePadding":2,"domainWidth":1.5,"tickWidth":1.5}}},
"layer":[
{"data":{"values":[{"x":"CFA/I","y":31},{"x":"CS1","y":1.8},{"x":"CS14","y":5.9}]},"mark":{"type":"bar","width":23,"stroke":"#4a5a6e","strokeWidth":1},"encoding":{"y2":{"datum":1},"fill":{"condition":{"test":"datum.x=='CFA/I'","value":"#6c93cb"},"value":"#cfdff2"}}},
{"data":{"values":[{"x":"CFA/I","y":129,"d":-4.5},{"x":"CFA/I","y":129,"d":4.5},{"x":"CFA/I","y":95,"d":0},{"x":"CFA/I","y":74,"d":0},{"x":"CFA/I","y":56,"d":0},{"x":"CFA/I","y":42,"d":0},{"x":"CFA/I","y":36,"d":0},{"x":"CFA/I","y":24.6,"d":0},{"x":"CFA/I","y":15,"d":0},{"x":"CFA/I","y":11,"d":0},{"x":"CFA/I","y":5.4,"d":0},{"x":"CFA/I","y":4.4,"d":0},
{"x":"CS1","y":22,"d":0},{"x":"CS1","y":6.5,"d":0},{"x":"CS1","y":4,"d":0},{"x":"CS1","y":1.5,"d":0},{"x":"CS1","y":1.17,"d":-6},{"x":"CS1","y":1.1,"d":-2},{"x":"CS1","y":1.05,"d":2},{"x":"CS1","y":1.1,"d":9},{"x":"CS1","y":1,"d":-8},{"x":"CS1","y":1,"d":0},{"x":"CS1","y":1,"d":5},
{"x":"CS14","y":87,"d":0},{"x":"CS14","y":41,"d":0},{"x":"CS14","y":11,"d":-4},{"x":"CS14","y":11,"d":4},{"x":"CS14","y":6.5,"d":0},{"x":"CS14","y":5.6,"d":0},{"x":"CS14","y":4.9,"d":0},{"x":"CS14","y":3.8,"d":0},{"x":"CS14","y":3,"d":0},{"x":"CS14","y":1.9,"d":0},{"x":"CS14","y":1.3,"d":0},{"x":"CS14","y":1,"d":0}]},"mark":{"type":"circle","size":11,"fill":"#000","opacity":1},"encoding":{"xOffset":{"field":"d","type":"quantitative","scale":{"domain":[-12,12],"range":[0,35.3],"nice":false,"zero":false}}}},
{"data":{"values":[{"x":"CFA/I","y":1,"d":-8,"t":"RF: 100%"},{"x":"CS1","y":1,"d":2,"t":"25%"},{"x":"CS14","y":1,"d":3,"t":"25%"}]},"mark":{"type":"text","dy":35.7},"encoding":{"text":{"field":"t"},"xOffset":{"field":"d","type":"quantitative","scale":{"domain":[-12,12],"range":[0,35.3],"nice":false,"zero":false}}}}
]},
{"width":295,"height":265,"title":{"text":["Children 24–59 mo","ALS IgA"],"dx":-37.5,"offset":-46.7},
"encoding":{"x":{"field":"x","type":"nominal","scale":{"domain":["CFA/I","CS1","CS14"],"range":[55,166.7],"paddingInner":0,"paddingOuter":0.18},"axis":{"title":null,"labelAngle":0,"tickSize":6,"labelPadding":6,"offset":-44,"domainWidth":2,"tickWidth":2}},"y":{"field":"y","type":"quantitative","scale":{"type":"log","domain":[1,100],"range":[221,67.3]},"axis":{"values":[1,10,100],"labelExpr":"datum.value==100?'≥100':datum.value","title":"Fold-rise responses","offset":-55,"tickSize":8,"labelPadding":4,"titlePadding":4.7,"domainWidth":2,"tickWidth":2}}},
"layer":[
{"data":{"values":[{"x":"CFA/I","y":35.8},{"x":"CS1","y":1.7},{"x":"CS14","y":3.4}]},"mark":{"type":"bar","width":21,"stroke":"#4a5a6e","strokeWidth":1},"encoding":{"y2":{"datum":1},"fill":{"condition":{"test":"datum.x=='CFA/I'","value":"#6c93cb"},"value":"#cfdff2"}}},
{"data":{"values":[{"x":"CFA/I","y":100,"d":-9},{"x":"CFA/I","y":100,"d":-3},{"x":"CFA/I","y":100,"d":3},{"x":"CFA/I","y":100,"d":9},{"x":"CFA/I","y":82,"d":0},{"x":"CFA/I","y":58,"d":-3},{"x":"CFA/I","y":58,"d":3},{"x":"CFA/I","y":51,"d":-3},{"x":"CFA/I","y":51,"d":3},{"x":"CFA/I","y":43,"d":-3},{"x":"CFA/I","y":43,"d":3},{"x":"CFA/I","y":39,"d":-3},{"x":"CFA/I","y":37,"d":3},{"x":"CFA/I","y":34,"d":0},{"x":"CFA/I","y":29,"d":-3},{"x":"CFA/I","y":29,"d":3},{"x":"CFA/I","y":26,"d":0},{"x":"CFA/I","y":24,"d":-9},{"x":"CFA/I","y":23,"d":-3},{"x":"CFA/I","y":23,"d":3},{"x":"CFA/I","y":23,"d":9},{"x":"CFA/I","y":8.6,"d":0},{"x":"CFA/I","y":7.7,"d":0},{"x":"CFA/I","y":6.2,"d":0},{"x":"CFA/I","y":5.5,"d":0},
{"x":"CS1","y":35,"d":0},{"x":"CS1","y":5.2,"d":0},{"x":"CS1","y":4.4,"d":0},{"x":"CS1","y":3.5,"d":0},{"x":"CS1","y":3,"d":0},{"x":"CS1","y":2.6,"d":0},{"x":"CS1","y":2.1,"d":0},{"x":"CS1","y":1.95,"d":-2},{"x":"CS1","y":1.95,"d":1},{"x":"CS1","y":1.7,"d":0},{"x":"CS1","y":1.45,"d":0},{"x":"CS1","y":1.15,"d":-4},{"x":"CS1","y":1.15,"d":3},{"x":"CS1","y":1.08,"d":0},{"x":"CS1","y":1,"d":-10},{"x":"CS1","y":1,"d":-6},{"x":"CS1","y":1,"d":-2},{"x":"CS1","y":1,"d":2},{"x":"CS1","y":1,"d":6},{"x":"CS1","y":1,"d":10},
{"x":"CS14","y":27,"d":0},{"x":"CS14","y":20,"d":2},{"x":"CS14","y":19,"d":-3},{"x":"CS14","y":15,"d":0},{"x":"CS14","y":13.5,"d":0},{"x":"CS14","y":11.6,"d":0},{"x":"CS14","y":9.7,"d":-3},{"x":"CS14","y":9.2,"d":1},{"x":"CS14","y":5.7,"d":0},{"x":"CS14","y":4.3,"d":0},{"x":"CS14","y":3.9,"d":2},{"x":"CS14","y":3.8,"d":-3},{"x":"CS14","y":3.3,"d":-1},{"x":"CS14","y":2.65,"d":0},{"x":"CS14","y":1.5,"d":-2},{"x":"CS14","y":1.5,"d":2},{"x":"CS14","y":1.2,"d":2},{"x":"CS14","y":1.1,"d":-3},{"x":"CS14","y":1,"d":-8},{"x":"CS14","y":1,"d":-3},{"x":"CS14","y":1,"d":0},{"x":"CS14","y":1,"d":3},{"x":"CS14","y":1,"d":8}]},"mark":{"type":"circle","size":11,"fill":"#000","opacity":1},"encoding":{"xOffset":{"field":"d","type":"quantitative","scale":{"domain":[-11.29,11.29],"range":[0,33.2],"nice":false,"zero":false}}}},
{"data":{"values":[{"x":"CFA/I","y":1,"d":-6,"t":"RF: 100%"},{"x":"CS1","y":1,"d":5,"t":"63%"},{"x":"CS14","y":1,"d":2,"t":"88%"}]},"mark":{"type":"text","dy":36},"encoding":{"text":{"field":"t"},"xOffset":{"field":"d","type":"quantitative","scale":{"domain":[-11.29,11.29],"range":[0,33.2],"nice":false,"zero":false}}}}
]}
],"spacing":0,"bounds":"flush"},
{"hconcat":[
{"width":265,"height":238,
"encoding":{"x":{"field":"x","type":"nominal","scale":{"domain":["CS5","CS7"],"range":[111.7,200],"paddingInner":0,"paddingOuter":0.18},"axis":{"title":null,"labelAngle":0,"tickSize":6,"labelPadding":6,"offset":-40.3,"domainWidth":1.5,"tickWidth":1.5}},"y":{"field":"y","type":"quantitative","scale":{"type":"log","domain":[1,100],"range":[197.7,30.7]},"axis":{"values":[1,10,100],"format":"d","title":"Fold-rise responses","offset":-111.7,"tickSize":6,"labelPadding":4,"titlePadding":0,"domainWidth":1.5,"tickWidth":1.5}}},
"layer":[
{"data":{"values":[{"x":"CS5","y":14.7},{"x":"CS7","y":6}]},"mark":{"type":"bar","width":24.5,"stroke":"#5e3a2a","strokeWidth":1},"encoding":{"y2":{"datum":1},"fill":{"condition":{"test":"datum.x=='CS5'","value":"#e0343a"},"value":"#edb47b"}}},
{"data":{"values":[{"x":"CS5","y":83,"d":-5},{"x":"CS5","y":79,"d":0},{"x":"CS5","y":43,"d":0},{"x":"CS5","y":38,"d":0},{"x":"CS5","y":24,"d":0},{"x":"CS5","y":20,"d":5},{"x":"CS5","y":18.6,"d":-5},{"x":"CS5","y":18.6,"d":0},{"x":"CS5","y":17.3,"d":-5},{"x":"CS5","y":16.6,"d":5},{"x":"CS5","y":10.5,"d":0},{"x":"CS5","y":9.8,"d":0},{"x":"CS5","y":9,"d":0},{"x":"CS5","y":8,"d":0},{"x":"CS5","y":6.8,"d":0},{"x":"CS5","y":6.8,"d":5},{"x":"CS5","y":6.1,"d":0},{"x":"CS5","y":4.6,"d":0},{"x":"CS5","y":2.4,"d":0},
{"x":"CS7","y":32,"d":0},{"x":"CS7","y":20,"d":0},{"x":"CS7","y":12,"d":-5},{"x":"CS7","y":10.8,"d":-5},{"x":"CS7","y":11.3,"d":0},{"x":"CS7","y":10.5,"d":0},{"x":"CS7","y":10.2,"d":5},{"x":"CS7","y":8.3,"d":-5},{"x":"CS7","y":7.9,"d":5},{"x":"CS7","y":7.2,"d":0},{"x":"CS7","y":6.6,"d":0},{"x":"CS7","y":5.1,"d":0},{"x":"CS7","y":4.4,"d":0},{"x":"CS7","y":3.5,"d":0},{"x":"CS7","y":2.65,"d":0},{"x":"CS7","y":1.5,"d":0},{"x":"CS7","y":1.17,"d":0},{"x":"CS7","y":1,"d":0}]},"mark":{"type":"circle","size":10,"fill":"#000","opacity":1},"encoding":{"xOffset":{"field":"d","type":"quantitative","scale":{"domain":[-12.68,12.68],"range":[0,37.3],"nice":false,"zero":false}}}},
{"data":{"values":[{"x":"CS5","y":1,"d":-5,"t":"RF: 100%"},{"x":"CS7","y":1,"d":5,"t":"83%"}]},"mark":{"type":"text","dy":33.3},"encoding":{"text":{"field":"t"},"xOffset":{"field":"d","type":"quantitative","scale":{"domain":[-12.68,12.68],"range":[0,37.3],"nice":false,"zero":false}}}},
{"data":{"values":[{"x":"CS5","y":21.3,"d":-118.7,"t":"CS5\nfamily"}]},"mark":{"type":"text","fontWeight":"bold","lineBreak":"\n","lineHeight":15,"fontSize":13,"fill":"#222"},"encoding":{"text":{"field":"t"},"xOffset":{"field":"d","type":"quantitative","scale":{"domain":[-12.68,12.68],"range":[0,37.3],"nice":false,"zero":false}}}}
]},
{"width":235,"height":238,
"encoding":{"x":{"field":"x","type":"nominal","scale":{"domain":["CS5","CS7"],"range":[86,187],"paddingInner":0,"paddingOuter":0.174},"axis":{"title":null,"labelAngle":0,"tickSize":6,"labelPadding":6,"offset":-42.3,"domainWidth":1.5,"tickWidth":1.5}},"y":{"field":"y","type":"quantitative","scale":{"type":"log","domain":[1,154],"range":[195.7,34.3]},"axis":{"values":[1,10,100],"format":"d","title":"Fold-rise responses","offset":-86,"tickSize":6,"labelPadding":3,"titlePadding":5,"domainWidth":1.5,"tickWidth":1.5}}},
"layer":[
{"data":{"values":[{"x":"CS5","y":20.3},{"x":"CS7","y":8.8}]},"mark":{"type":"bar","width":28,"stroke":"#5e3a2a","strokeWidth":1},"encoding":{"y2":{"datum":1},"fill":{"condition":{"test":"datum.x=='CS5'","value":"#e0343a"},"value":"#edb47b"}}},
{"data":{"values":[{"x":"CS5","y":97,"d":0},{"x":"CS5","y":62,"d":0},{"x":"CS5","y":46,"d":0},{"x":"CS5","y":32,"d":0},{"x":"CS5","y":29,"d":0},{"x":"CS5","y":23,"d":0},{"x":"CS5","y":15,"d":0},{"x":"CS5","y":13.3,"d":0},{"x":"CS5","y":4.8,"d":0},{"x":"CS5","y":2.2,"d":0},
{"x":"CS7","y":36,"d":0},{"x":"CS7","y":19.5,"d":-3},{"x":"CS7","y":17.9,"d":3},{"x":"CS7","y":14.4,"d":-3},{"x":"CS7","y":14,"d":3},{"x":"CS7","y":9.6,"d":0},{"x":"CS7","y":6,"d":0},{"x":"CS7","y":3.8,"d":0},{"x":"CS7","y":3.3,"d":0},{"x":"CS7","y":1.8,"d":0}]},"mark":{"type":"circle","size":10,"fill":"#000","opacity":1},"encoding":{"xOffset":{"field":"d","type":"quantitative","scale":{"domain":[-14.62,14.62],"range":[0,43],"nice":false,"zero":false}}}},
{"data":{"values":[{"x":"CS5","y":1,"d":-6,"t":"RF: 100%"},{"x":"CS7","y":1,"d":3,"t":"90%"}]},"mark":{"type":"text","dy":35.3},"encoding":{"text":{"field":"t"},"xOffset":{"field":"d","type":"quantitative","scale":{"domain":[-14.62,14.62],"range":[0,43],"nice":false,"zero":false}}}}
]},
{"width":295,"height":238,
"encoding":{"x":{"field":"x","type":"nominal","scale":{"domain":["CS5","CS7"],"range":[56.7,150],"paddingInner":0,"paddingOuter":0.174},"axis":{"title":null,"labelAngle":0,"tickSize":6,"labelPadding":6,"offset":-44.7,"domainWidth":2,"tickWidth":2}},"y":{"field":"y","type":"quantitative","scale":{"type":"log","domain":[1,100],"range":[193.3,37.3]},"axis":{"values":[1,10,100],"format":"d","title":"Fold-rise responses","offset":-56.7,"tickSize":6,"titlePadding":1.7,"domainWidth":2,"tickWidth":2}}},
"layer":[
{"data":{"values":[{"x":"CS5","y":12.1},{"x":"CS7","y":3.9}]},"mark":{"type":"bar","width":26,"stroke":"#5e3a2a","strokeWidth":1},"encoding":{"y2":{"datum":1},"fill":{"condition":{"test":"datum.x=='CS5'","value":"#e0343a"},"value":"#edb47b"}}},
{"data":{"values":[{"x":"CS5","y":59,"d":0},{"x":"CS5","y":39,"d":-3},{"x":"CS5","y":38,"d":3},{"x":"CS5","y":29,"d":-5},{"x":"CS5","y":27,"d":5},{"x":"CS5","y":25,"d":0},{"x":"CS5","y":22,"d":0},{"x":"CS5","y":18,"d":5},{"x":"CS5","y":17.4,"d":-5},{"x":"CS5","y":16,"d":0},{"x":"CS5","y":14.7,"d":0},{"x":"CS5","y":13.2,"d":5},{"x":"CS5","y":11.5,"d":-5},{"x":"CS5","y":11,"d":0},{"x":"CS5","y":9.9,"d":0},{"x":"CS5","y":8.8,"d":-5},{"x":"CS5","y":8.8,"d":0},{"x":"CS5","y":8.5,"d":5},{"x":"CS5","y":5.3,"d":0},{"x":"CS5","y":4.9,"d":0},{"x":"CS5","y":4.3,"d":0},{"x":"CS5","y":3.8,"d":0},{"x":"CS5","y":3.1,"d":0},{"x":"CS5","y":2.8,"d":0},
{"x":"CS7","y":26,"d":0},{"x":"CS7","y":15.3,"d":0},{"x":"CS7","y":10.5,"d":-5},{"x":"CS7","y":10.2,"d":5},{"x":"CS7","y":9.9,"d":0},{"x":"CS7","y":9,"d":0},{"x":"CS7","y":8.3,"d":0},{"x":"CS7","y":6.8,"d":0},{"x":"CS7","y":6.3,"d":-5},{"x":"CS7","y":6.1,"d":5},{"x":"CS7","y":4.4,"d":0},{"x":"CS7","y":3.7,"d":0},{"x":"CS7","y":3.3,"d":-5},{"x":"CS7","y":3,"d":0},{"x":"CS7","y":3,"d":5},{"x":"CS7","y":2.6,"d":-5},{"x":"CS7","y":2.4,"d":-5},{"x":"CS7","y":2.5,"d":5},{"x":"CS7","y":2.3,"d":5},{"x":"CS7","y":2.2,"d":0},{"x":"CS7","y":1.9,"d":0},{"x":"CS7","y":1.6,"d":0},{"x":"CS7","y":1,"d":-5},{"x":"CS7","y":1,"d":0},{"x":"CS7","y":1,"d":5}]},"mark":{"type":"circle","size":10,"fill":"#000","opacity":1},"encoding":{"xOffset":{"field":"d","type":"quantitative","scale":{"domain":[-13.5,13.5],"range":[0,39.7],"nice":false,"zero":false}}}},
{"data":{"values":[{"x":"CS5","y":1,"d":-7,"t":"RF: 100%"},{"x":"CS7","y":1,"d":1,"t":"100%"}]},"mark":{"type":"text","dy":37.7},"encoding":{"text":{"field":"t"},"xOffset":{"field":"d","type":"quantitative","scale":{"domain":[-13.5,13.5],"range":[0,39.7],"nice":false,"zero":false}}}}
]}
],"spacing":0,"bounds":"flush"}
]}
